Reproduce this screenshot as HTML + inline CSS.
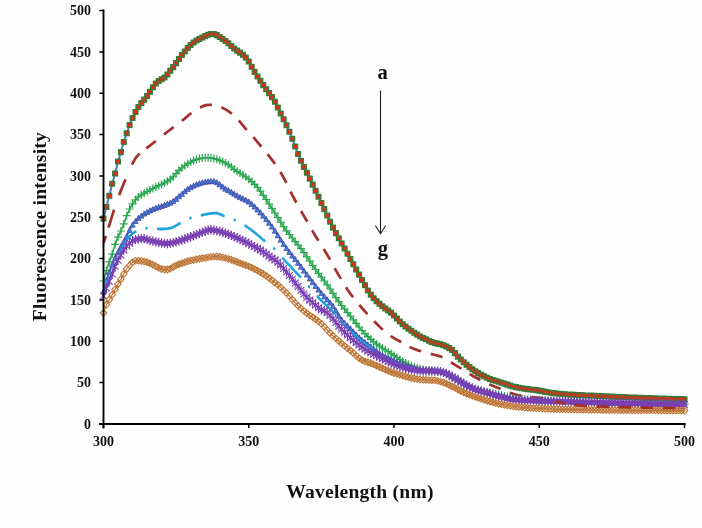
<!DOCTYPE html>
<html lang="en">
<head>
<meta charset="utf-8">
<title>Fluorescence intensity vs Wavelength (nm)</title>
<style>
html,body{margin:0;padding:0;background:#fefefe;}
body{width:702px;height:528px;overflow:hidden;font-family:"Liberation Serif","Times New Roman",serif;}
svg{display:block;filter:blur(0.35px);}
</style>
</head>
<body>
<svg width="702" height="528" viewBox="0 0 702 528">
<rect width="702" height="528" fill="#fefefe"/>
<g stroke-linejoin="round" stroke-linecap="butt">
<polyline points="103.5,218.5 106.4,207 109.3,195.8 112.2,183.7 115.1,173.5 118,161.5 120.9,152.1 123.8,141.9 126.7,133.3 129.6,124.9 132.6,118 135.5,111.9 138.4,106.9 141.3,103.1 144.2,99.6 147.1,96 150,91.7 152.9,87.3 155.8,83.5 158.7,80.9 161.6,79.3 164.5,77.5 167.4,74.5 170.3,70.8 173.2,67.1 176.1,63.1 179,58.9 181.9,54.9 184.8,51.4 187.7,48 190.7,44.9 193.6,42.4 196.5,40.5 199.4,38.9 202.3,37.5 205.2,36.1 208.1,34.8 211,33.9 213.9,34 216.8,35.1 219.7,36.9 222.6,38.9 225.5,40.9 228.4,43.3 231.3,45.9 234.2,48.4 237.1,50.6 240,52.6 242.9,54.8 245.8,57.5 248.8,61.5 251.7,66.8 254.6,71.9 257.5,76.4 260.4,80.8 263.3,85.1 266.2,89.3 269.1,93.1 272,97.1 274.9,101.7 277.8,107.5 280.7,113.4 283.6,119.3 286.5,125.3 289.4,131.7 292.3,138.7 295.2,146.4 298.1,154 301,160.8 303.9,166.9 306.9,172.7 309.8,178.6 312.7,184.6 315.6,190.7 318.5,196.7 321.4,202.9 324.3,209.1 327.2,215.5 330.1,221.7 333,227.6 335.9,233.1 338.8,238.3 341.7,243.4 344.6,248.5 347.5,253.7 350.4,259 353.3,264.2 356.2,269.5 359.1,274.6 362,279.9 364.9,285.3 367.9,290.4 370.8,294.7 373.7,298.2 376.6,301.2 379.5,303.8 382.4,306.3 385.3,308.5 388.2,310.5 391.1,312.7 394,315.4 396.9,318.5 399.8,321.5 402.7,324.2 405.6,326.5 408.5,328.7 411.4,330.7 414.3,332.7 417.2,334.6 420.1,336.4 423.1,337.9 426,339.3 428.9,340.7 431.8,342 434.7,342.9 437.6,343.6 440.5,344.3 443.4,345.2 446.3,346.5 449.2,348.1 452.1,349.9 455,353.1 457.9,356.6 460.8,359.4 463.7,362.2 466.6,364.8 469.5,367.1 472.4,369.3 475.3,371.3 478.2,373.1 481.1,374.7 484.1,376.3 487,377.7 489.9,379 492.8,380 495.7,380.8 498.6,381.7 501.5,382.7 504.4,383.6 507.3,384.6 510.2,385.6 513.1,386.4 516,387.1 518.9,387.7 521.8,388.2 524.7,388.7 527.6,389.1 530.5,389.4 533.4,389.8 536.3,390.1 539.2,390.6 542.2,391.2 545.1,391.8 548,392.3 550.9,392.7 553.8,393.1 556.7,393.5 559.6,393.8 562.5,394 565.4,394.2 568.3,394.4 571.2,394.6 574.1,394.8 577,394.9 579.9,395.1 582.8,395.2 585.7,395.4 588.6,395.5 591.5,395.6 594.4,395.7 597.4,395.9 600.3,396 603.2,396.2 606.1,396.3 609,396.4 611.9,396.6 614.8,396.7 617.7,396.9 620.6,397 623.5,397.1 626.4,397.2 629.3,397.4 632.2,397.5 635.1,397.6 638,397.7 640.9,397.8 643.8,397.9 646.7,398 649.6,398.1 652.5,398.2 655.5,398.3 658.4,398.4 661.3,398.5 664.2,398.6 667.1,398.7 670,398.8 672.9,398.9 675.8,399 678.7,399 681.6,399.1 684.5,399.2" fill="none" stroke="#4a7ebb" stroke-width="2"/>
<path d="M101.1,216.1h4.8v4.8h-4.8zM104,204.6h4.8v4.8h-4.8zM106.9,193.4h4.8v4.8h-4.8zM109.8,181.3h4.8v4.8h-4.8zM112.7,171.1h4.8v4.8h-4.8zM115.6,159.1h4.8v4.8h-4.8zM118.5,149.7h4.8v4.8h-4.8zM121.4,139.5h4.8v4.8h-4.8zM124.3,130.9h4.8v4.8h-4.8zM127.2,122.5h4.8v4.8h-4.8zM130.2,115.6h4.8v4.8h-4.8zM133.1,109.5h4.8v4.8h-4.8zM136,104.5h4.8v4.8h-4.8zM138.9,100.7h4.8v4.8h-4.8zM141.8,97.2h4.8v4.8h-4.8zM144.7,93.6h4.8v4.8h-4.8zM147.6,89.3h4.8v4.8h-4.8zM150.5,84.9h4.8v4.8h-4.8zM153.4,81.1h4.8v4.8h-4.8zM156.3,78.5h4.8v4.8h-4.8zM159.2,76.9h4.8v4.8h-4.8zM162.1,75.1h4.8v4.8h-4.8zM165,72.1h4.8v4.8h-4.8zM167.9,68.4h4.8v4.8h-4.8zM170.8,64.7h4.8v4.8h-4.8zM173.7,60.7h4.8v4.8h-4.8zM176.6,56.5h4.8v4.8h-4.8zM179.5,52.5h4.8v4.8h-4.8zM182.4,49h4.8v4.8h-4.8zM185.3,45.6h4.8v4.8h-4.8zM188.2,42.5h4.8v4.8h-4.8zM191.2,40h4.8v4.8h-4.8zM194.1,38.1h4.8v4.8h-4.8zM197,36.5h4.8v4.8h-4.8zM199.9,35.1h4.8v4.8h-4.8zM202.8,33.7h4.8v4.8h-4.8zM205.7,32.4h4.8v4.8h-4.8zM208.6,31.5h4.8v4.8h-4.8zM211.5,31.6h4.8v4.8h-4.8zM214.4,32.7h4.8v4.8h-4.8zM217.3,34.5h4.8v4.8h-4.8zM220.2,36.5h4.8v4.8h-4.8zM223.1,38.5h4.8v4.8h-4.8zM226,40.9h4.8v4.8h-4.8zM228.9,43.5h4.8v4.8h-4.8zM231.8,46h4.8v4.8h-4.8zM234.7,48.2h4.8v4.8h-4.8zM237.6,50.2h4.8v4.8h-4.8zM240.5,52.4h4.8v4.8h-4.8zM243.4,55.1h4.8v4.8h-4.8zM246.3,59.1h4.8v4.8h-4.8zM249.3,64.4h4.8v4.8h-4.8zM252.2,69.5h4.8v4.8h-4.8zM255.1,74h4.8v4.8h-4.8zM258,78.4h4.8v4.8h-4.8zM260.9,82.7h4.8v4.8h-4.8zM263.8,86.9h4.8v4.8h-4.8zM266.7,90.7h4.8v4.8h-4.8zM269.6,94.7h4.8v4.8h-4.8zM272.5,99.3h4.8v4.8h-4.8zM275.4,105.1h4.8v4.8h-4.8zM278.3,111h4.8v4.8h-4.8zM281.2,116.9h4.8v4.8h-4.8zM284.1,122.9h4.8v4.8h-4.8zM287,129.3h4.8v4.8h-4.8zM289.9,136.3h4.8v4.8h-4.8zM292.8,144h4.8v4.8h-4.8zM295.7,151.6h4.8v4.8h-4.8zM298.6,158.4h4.8v4.8h-4.8zM301.5,164.5h4.8v4.8h-4.8zM304.5,170.3h4.8v4.8h-4.8zM307.4,176.2h4.8v4.8h-4.8zM310.3,182.2h4.8v4.8h-4.8zM313.2,188.3h4.8v4.8h-4.8zM316.1,194.3h4.8v4.8h-4.8zM319,200.5h4.8v4.8h-4.8zM321.9,206.7h4.8v4.8h-4.8zM324.8,213.1h4.8v4.8h-4.8zM327.7,219.3h4.8v4.8h-4.8zM330.6,225.2h4.8v4.8h-4.8zM333.5,230.7h4.8v4.8h-4.8zM336.4,235.9h4.8v4.8h-4.8zM339.3,241h4.8v4.8h-4.8zM342.2,246.1h4.8v4.8h-4.8zM345.1,251.3h4.8v4.8h-4.8zM348,256.6h4.8v4.8h-4.8zM350.9,261.8h4.8v4.8h-4.8zM353.8,267.1h4.8v4.8h-4.8zM356.7,272.2h4.8v4.8h-4.8zM359.6,277.5h4.8v4.8h-4.8zM362.6,282.9h4.8v4.8h-4.8zM365.5,288h4.8v4.8h-4.8zM368.4,292.3h4.8v4.8h-4.8zM371.3,295.8h4.8v4.8h-4.8zM374.2,298.8h4.8v4.8h-4.8zM377.1,301.4h4.8v4.8h-4.8zM380,303.9h4.8v4.8h-4.8zM382.9,306.1h4.8v4.8h-4.8zM385.8,308.1h4.8v4.8h-4.8zM388.7,310.3h4.8v4.8h-4.8zM391.6,313h4.8v4.8h-4.8zM394.5,316.1h4.8v4.8h-4.8zM397.4,319.1h4.8v4.8h-4.8zM400.3,321.8h4.8v4.8h-4.8zM403.2,324.1h4.8v4.8h-4.8zM406.1,326.3h4.8v4.8h-4.8zM409,328.3h4.8v4.8h-4.8zM411.9,330.3h4.8v4.8h-4.8zM414.8,332.2h4.8v4.8h-4.8zM417.7,334h4.8v4.8h-4.8zM420.7,335.5h4.8v4.8h-4.8zM423.6,336.9h4.8v4.8h-4.8zM426.5,338.3h4.8v4.8h-4.8zM429.4,339.6h4.8v4.8h-4.8zM432.3,340.5h4.8v4.8h-4.8zM435.2,341.2h4.8v4.8h-4.8zM438.1,341.9h4.8v4.8h-4.8zM441,342.8h4.8v4.8h-4.8zM443.9,344.1h4.8v4.8h-4.8zM446.8,345.7h4.8v4.8h-4.8zM449.7,347.5h4.8v4.8h-4.8zM452.6,350.7h4.8v4.8h-4.8zM455.5,354.2h4.8v4.8h-4.8zM458.4,357h4.8v4.8h-4.8zM461.3,359.8h4.8v4.8h-4.8zM464.2,362.4h4.8v4.8h-4.8zM467.1,364.7h4.8v4.8h-4.8zM470,366.9h4.8v4.8h-4.8zM472.9,368.9h4.8v4.8h-4.8zM475.8,370.7h4.8v4.8h-4.8zM478.8,372.3h4.8v4.8h-4.8zM481.7,373.9h4.8v4.8h-4.8zM484.6,375.3h4.8v4.8h-4.8zM487.5,376.6h4.8v4.8h-4.8zM490.4,377.6h4.8v4.8h-4.8zM493.3,378.4h4.8v4.8h-4.8zM496.2,379.3h4.8v4.8h-4.8zM499.1,380.3h4.8v4.8h-4.8zM502,381.2h4.8v4.8h-4.8zM504.9,382.2h4.8v4.8h-4.8zM507.8,383.2h4.8v4.8h-4.8zM510.7,384h4.8v4.8h-4.8zM513.6,384.7h4.8v4.8h-4.8zM516.5,385.3h4.8v4.8h-4.8zM519.4,385.8h4.8v4.8h-4.8zM522.3,386.3h4.8v4.8h-4.8zM525.2,386.7h4.8v4.8h-4.8zM528.1,387h4.8v4.8h-4.8zM531,387.4h4.8v4.8h-4.8zM533.9,387.7h4.8v4.8h-4.8zM536.9,388.2h4.8v4.8h-4.8zM539.8,388.8h4.8v4.8h-4.8zM542.7,389.4h4.8v4.8h-4.8zM545.6,389.9h4.8v4.8h-4.8zM548.5,390.3h4.8v4.8h-4.8zM551.4,390.7h4.8v4.8h-4.8zM554.3,391.1h4.8v4.8h-4.8zM557.2,391.4h4.8v4.8h-4.8zM560.1,391.6h4.8v4.8h-4.8zM563,391.8h4.8v4.8h-4.8zM565.9,392h4.8v4.8h-4.8zM568.8,392.2h4.8v4.8h-4.8zM571.7,392.4h4.8v4.8h-4.8zM574.6,392.5h4.8v4.8h-4.8zM577.5,392.7h4.8v4.8h-4.8zM580.4,392.8h4.8v4.8h-4.8zM583.3,393h4.8v4.8h-4.8zM586.2,393.1h4.8v4.8h-4.8zM589.1,393.2h4.8v4.8h-4.8zM592,393.3h4.8v4.8h-4.8zM595,393.5h4.8v4.8h-4.8zM597.9,393.6h4.8v4.8h-4.8zM600.8,393.8h4.8v4.8h-4.8zM603.7,393.9h4.8v4.8h-4.8zM606.6,394h4.8v4.8h-4.8zM609.5,394.2h4.8v4.8h-4.8zM612.4,394.3h4.8v4.8h-4.8zM615.3,394.5h4.8v4.8h-4.8zM618.2,394.6h4.8v4.8h-4.8zM621.1,394.7h4.8v4.8h-4.8zM624,394.8h4.8v4.8h-4.8zM626.9,395h4.8v4.8h-4.8zM629.8,395.1h4.8v4.8h-4.8zM632.7,395.2h4.8v4.8h-4.8zM635.6,395.3h4.8v4.8h-4.8zM638.5,395.4h4.8v4.8h-4.8zM641.4,395.5h4.8v4.8h-4.8zM644.3,395.6h4.8v4.8h-4.8zM647.2,395.7h4.8v4.8h-4.8zM650.1,395.8h4.8v4.8h-4.8zM653.1,395.9h4.8v4.8h-4.8zM656,396h4.8v4.8h-4.8zM658.9,396.1h4.8v4.8h-4.8zM661.8,396.2h4.8v4.8h-4.8zM664.7,396.3h4.8v4.8h-4.8zM667.6,396.4h4.8v4.8h-4.8zM670.5,396.5h4.8v4.8h-4.8zM673.4,396.6h4.8v4.8h-4.8zM676.3,396.6h4.8v4.8h-4.8zM679.2,396.7h4.8v4.8h-4.8zM682.1,396.8h4.8v4.8h-4.8z" fill="#da2f1e" stroke="#2c7f37" stroke-width="1.25"/>
<path d="M102,217h3v3h-3zM104.9,205.5h3v3h-3zM107.8,194.3h3v3h-3zM110.7,182.2h3v3h-3zM113.6,172h3v3h-3zM116.5,160h3v3h-3zM119.4,150.6h3v3h-3zM122.3,140.4h3v3h-3zM125.2,131.8h3v3h-3zM128.1,123.4h3v3h-3zM131.1,116.5h3v3h-3zM134,110.4h3v3h-3zM136.9,105.4h3v3h-3zM139.8,101.6h3v3h-3zM142.7,98.1h3v3h-3zM145.6,94.5h3v3h-3zM148.5,90.2h3v3h-3zM151.4,85.8h3v3h-3zM154.3,82h3v3h-3zM157.2,79.4h3v3h-3zM160.1,77.8h3v3h-3zM163,76h3v3h-3zM165.9,73h3v3h-3zM168.8,69.3h3v3h-3zM171.7,65.6h3v3h-3zM174.6,61.6h3v3h-3zM177.5,57.4h3v3h-3zM180.4,53.4h3v3h-3zM183.3,49.9h3v3h-3zM186.2,46.5h3v3h-3zM189.2,43.4h3v3h-3zM192.1,40.9h3v3h-3zM195,39h3v3h-3zM197.9,37.4h3v3h-3zM200.8,36h3v3h-3zM203.7,34.6h3v3h-3zM206.6,33.3h3v3h-3zM209.5,32.4h3v3h-3zM212.4,32.5h3v3h-3zM215.3,33.6h3v3h-3zM218.2,35.4h3v3h-3zM221.1,37.4h3v3h-3zM224,39.4h3v3h-3zM226.9,41.8h3v3h-3zM229.8,44.4h3v3h-3zM232.7,46.9h3v3h-3zM235.6,49.1h3v3h-3zM238.5,51.1h3v3h-3zM241.4,53.3h3v3h-3zM244.3,56h3v3h-3zM247.2,60h3v3h-3zM250.2,65.3h3v3h-3zM253.1,70.4h3v3h-3zM256,74.9h3v3h-3zM258.9,79.3h3v3h-3zM261.8,83.6h3v3h-3zM264.7,87.8h3v3h-3zM267.6,91.6h3v3h-3zM270.5,95.6h3v3h-3zM273.4,100.2h3v3h-3zM276.3,106h3v3h-3zM279.2,111.9h3v3h-3zM282.1,117.8h3v3h-3zM285,123.8h3v3h-3zM287.9,130.2h3v3h-3zM290.8,137.2h3v3h-3zM293.7,144.9h3v3h-3zM296.6,152.5h3v3h-3zM299.5,159.3h3v3h-3zM302.4,165.4h3v3h-3zM305.4,171.2h3v3h-3zM308.3,177.1h3v3h-3zM311.2,183.1h3v3h-3zM314.1,189.2h3v3h-3zM317,195.2h3v3h-3zM319.9,201.4h3v3h-3zM322.8,207.6h3v3h-3zM325.7,214h3v3h-3zM328.6,220.2h3v3h-3zM331.5,226.1h3v3h-3zM334.4,231.6h3v3h-3zM337.3,236.8h3v3h-3zM340.2,241.9h3v3h-3zM343.1,247h3v3h-3zM346,252.2h3v3h-3zM348.9,257.5h3v3h-3zM351.8,262.7h3v3h-3zM354.7,268h3v3h-3zM357.6,273.1h3v3h-3zM360.5,278.4h3v3h-3zM363.4,283.8h3v3h-3zM366.4,288.9h3v3h-3zM369.3,293.2h3v3h-3zM372.2,296.7h3v3h-3zM375.1,299.7h3v3h-3zM378,302.3h3v3h-3zM380.9,304.8h3v3h-3zM383.8,307h3v3h-3zM386.7,309h3v3h-3zM389.6,311.2h3v3h-3zM392.5,313.9h3v3h-3zM395.4,317h3v3h-3zM398.3,320h3v3h-3zM401.2,322.7h3v3h-3zM404.1,325h3v3h-3zM407,327.2h3v3h-3zM409.9,329.2h3v3h-3zM412.8,331.2h3v3h-3zM415.7,333.1h3v3h-3zM418.6,334.9h3v3h-3zM421.6,336.4h3v3h-3zM424.5,337.8h3v3h-3zM427.4,339.2h3v3h-3zM430.3,340.5h3v3h-3zM433.2,341.4h3v3h-3zM436.1,342.1h3v3h-3zM439,342.8h3v3h-3zM441.9,343.7h3v3h-3zM444.8,345h3v3h-3zM447.7,346.6h3v3h-3zM450.6,348.4h3v3h-3zM453.5,351.6h3v3h-3zM456.4,355.1h3v3h-3zM459.3,357.9h3v3h-3zM462.2,360.7h3v3h-3zM465.1,363.3h3v3h-3zM468,365.6h3v3h-3zM470.9,367.8h3v3h-3zM473.8,369.8h3v3h-3zM476.7,371.6h3v3h-3zM479.6,373.2h3v3h-3zM482.6,374.8h3v3h-3zM485.5,376.2h3v3h-3zM488.4,377.5h3v3h-3zM491.3,378.5h3v3h-3zM494.2,379.3h3v3h-3zM497.1,380.2h3v3h-3zM500,381.2h3v3h-3zM502.9,382.1h3v3h-3zM505.8,383.1h3v3h-3zM508.7,384.1h3v3h-3zM511.6,384.9h3v3h-3zM514.5,385.6h3v3h-3zM517.4,386.2h3v3h-3zM520.3,386.7h3v3h-3zM523.2,387.2h3v3h-3zM526.1,387.6h3v3h-3zM529,387.9h3v3h-3zM531.9,388.3h3v3h-3zM534.8,388.6h3v3h-3zM537.8,389.1h3v3h-3zM540.7,389.7h3v3h-3zM543.6,390.3h3v3h-3zM546.5,390.8h3v3h-3zM549.4,391.2h3v3h-3zM552.3,391.6h3v3h-3zM555.2,392h3v3h-3zM558.1,392.3h3v3h-3zM561,392.5h3v3h-3zM563.9,392.7h3v3h-3zM566.8,392.9h3v3h-3zM569.7,393.1h3v3h-3zM572.6,393.3h3v3h-3zM575.5,393.4h3v3h-3zM578.4,393.6h3v3h-3zM581.3,393.7h3v3h-3zM584.2,393.9h3v3h-3zM587.1,394h3v3h-3zM590,394.1h3v3h-3zM592.9,394.2h3v3h-3zM595.9,394.4h3v3h-3zM598.8,394.5h3v3h-3zM601.7,394.7h3v3h-3zM604.6,394.8h3v3h-3zM607.5,394.9h3v3h-3zM610.4,395.1h3v3h-3zM613.3,395.2h3v3h-3zM616.2,395.4h3v3h-3zM619.1,395.5h3v3h-3zM622,395.6h3v3h-3zM624.9,395.7h3v3h-3zM627.8,395.9h3v3h-3zM630.7,396h3v3h-3zM633.6,396.1h3v3h-3zM636.5,396.2h3v3h-3zM639.4,396.3h3v3h-3zM642.3,396.4h3v3h-3zM645.2,396.5h3v3h-3zM648.1,396.6h3v3h-3zM651,396.7h3v3h-3zM654,396.8h3v3h-3zM656.9,396.9h3v3h-3zM659.8,397h3v3h-3zM662.7,397.1h3v3h-3zM665.6,397.2h3v3h-3zM668.5,397.3h3v3h-3zM671.4,397.4h3v3h-3zM674.3,397.5h3v3h-3zM677.2,397.5h3v3h-3zM680.1,397.6h3v3h-3zM683,397.7h3v3h-3z" fill="#da2f1e" fill-opacity="0.75"/>
<polyline points="103.5,243 106.4,234.6 109.3,225 112.2,215.6 115.1,206.5 118,198.2 120.9,190.6 123.8,183.4 126.7,176.7 129.6,169.9 132.6,163.4 135.5,158.2 138.4,154.8 141.3,152.1 144.2,149.8 147.1,147.7 150,145.6 152.9,143.3 155.8,141 158.7,138.6 161.6,136.4 164.5,134.1 167.4,131.8 170.3,129.6 173.2,127.4 176.1,125.2 179,123 181.9,120.8 184.8,118.6 187.7,116.1 190.7,113.5 193.6,111.1 196.5,109.1 199.4,107.7 202.3,106.4 205.2,105.4 208.1,104.8 211,104.9 213.9,105.3 216.8,106.1 219.7,106.9 222.6,107.9 225.5,109.4 228.4,111.2 231.3,113.3 234.2,115.6 237.1,118.4 240,121.8 242.9,125.3 245.8,128.8 248.8,132.1 251.7,135.4 254.6,138.7 257.5,142.1 260.4,145.5 263.3,148.9 266.2,152.4 269.1,156.1 272,159.9 274.9,163.8 277.8,168 280.7,172.5 283.6,177.5 286.5,183.3 289.4,189.3 292.3,195.1 295.2,200.5 298.1,205.7 301,210.9 303.9,216 306.9,221.1 309.8,226.2 312.7,231.3 315.6,236.2 318.5,240.9 321.4,245.5 324.3,250 327.2,254.7 330.1,259.7 333,264.9 335.9,270.3 338.8,275.4 341.7,280.2 344.6,284.9 347.5,289.5 350.4,293.7 353.3,297.6 356.2,301.2 359.1,304.6 362,308 364.9,311.3 367.9,314.5 370.8,317.7 373.7,320.8 376.6,323.8 379.5,326.6 382.4,329.4 385.3,332 388.2,334.4 391.1,336.4 394,338.1 396.9,339.8 399.8,341.3 402.7,342.9 405.6,344.5 408.5,346.2 411.4,347.7 414.3,349 417.2,350.1 420.1,351 423.1,351.9 426,352.7 428.9,353.4 431.8,354.1 434.7,354.8 437.6,355.6 440.5,356.5 443.4,357.8 446.3,359.5 449.2,361.3 452.1,363 455,364.8 457.9,366.6 460.8,368.3 463.7,370.1 466.6,372 469.5,373.9 472.4,375.7 475.3,377.3 478.2,378.8 481.1,380.3 484.1,381.7 487,383.1 489.9,384.5 492.8,385.7 495.7,386.9 498.6,388.1 501.5,389.3 504.4,390.6 507.3,391.8 510.2,392.9 513.1,393.9 516,394.6 518.9,395.2 521.8,395.7 524.7,396.2 527.6,396.6 530.5,396.9 533.4,397.2 536.3,397.5 539.2,397.8 542.2,398.1 545.1,398.5 548,399.1 550.9,399.9 553.8,400.8 556.7,401.7 559.6,402.4 562.5,403 565.4,403.5 568.3,404 571.2,404.5 574.1,404.9 577,405.2 579.9,405.5 582.8,405.7 585.7,405.9 588.6,406 591.5,406.2 594.4,406.3 597.4,406.4 600.3,406.5 603.2,406.6 606.1,406.7 609,406.8 611.9,406.8 614.8,406.9 617.7,407 620.6,407.1 623.5,407.1 626.4,407.2 629.3,407.3 632.2,407.3 635.1,407.4 638,407.5 640.9,407.5 643.8,407.6 646.7,407.6 649.6,407.7 652.5,407.7 655.5,407.8 658.4,407.8 661.3,407.9 664.2,407.9 667.1,407.9 670,407.9 672.9,408 675.8,408 678.7,408 681.6,408 684.5,408" fill="none" stroke="#a3302c" stroke-width="2.7" stroke-dasharray="7.6 8.5 18.8 15.4 17.1 16.1 13.5 8.3 12.3 10.3 12.3 10.3 12.3 10.3 12.3 9.8 12.3 9.8 12.3 9.8 12.3 9.8 12.3 9.8 12.3 9.8 12.3 9.8 12.3 9.8 12.3 9.8 12.3 9.8 12.3 9.8 12.3 9.8 12.3 9.8 12.3 9.8 12.3 9.8 12.3 9.8 12.3 9.8 12.3 9.8 12.3 9.8 12.3 9.8 12.3 9.8 12.3 9.8 12.3 9.8 12.3 9.8 12.3 9.8 12.3 9.8 12.3 9.8 12.3 9.8 12.3 9.8 12.3 9.8 12.3 9.8 12.3 9.8 12.3 9.8 12.3 9.8 12.3 9.8 12.3 9.8 12.3 9.8 12.3 9.8 12.3 9.8 12.3 9.8 12.3 9.8 12.3 9.8 12.3 9.8 12.3 9.8 12.3 9.8"/>
<polyline points="103.5,281 106.4,270.5 109.3,261.8 112.2,254.1 115.1,244.4 118,237.1 120.9,231 123.8,223.9 126.7,215.7 129.6,209 132.6,203.8 135.5,199.8 138.4,196.9 141.3,194.9 144.2,193.2 147.1,191.6 150,190 152.9,188.5 155.8,187 158.7,185.7 161.6,184.4 164.5,182.9 167.4,181.2 170.3,179.2 173.2,176.8 176.1,173.6 179,170.4 181.9,167.8 184.8,165.6 187.7,163.7 190.7,162.1 193.6,160.5 196.5,159.3 199.4,158.6 202.3,158 205.2,157.6 208.1,157.7 211,158.1 213.9,158.5 216.8,159.3 219.7,160.4 222.6,161.6 225.5,163 228.4,164.7 231.3,166.9 234.2,169.3 237.1,171.3 240,173.1 242.9,175 245.8,176.9 248.8,179.2 251.7,181.6 254.6,184.3 257.5,187.4 260.4,191.2 263.3,195.3 266.2,199.5 269.1,204 272,208.5 274.9,213 277.8,217.6 280.7,222.1 283.6,226.7 286.5,230.8 289.4,234.5 292.3,238.1 295.2,241.7 298.1,245.1 301,248.7 303.9,252.7 306.9,256.9 309.8,261.2 312.7,265.5 315.6,269.5 318.5,273.4 321.4,277.2 324.3,281 327.2,284.8 330.1,289 333,293.4 335.9,297.7 338.8,301.7 341.7,305.5 344.6,309.1 347.5,312.7 350.4,316.2 353.3,319.8 356.2,323.4 359.1,327 362,330.5 364.9,333.7 367.9,336.6 370.8,339.3 373.7,341.9 376.6,344.2 379.5,346.2 382.4,348 385.3,349.8 388.2,351.7 391.1,353.7 394,355.6 396.9,357.5 399.8,359.4 402.7,361.3 405.6,363 408.5,364.5 411.4,365.8 414.3,366.9 417.2,367.9 420.1,368.7 423.1,369.5 426,370.2 428.9,370.7 431.8,371 434.7,371.3 437.6,371.6 440.5,372.2 443.4,372.8 446.3,373.7 449.2,374.7 452.1,376.4 455,378.4 457.9,380.4 460.8,382 463.7,383.5 466.6,384.9 469.5,386.2 472.4,387.3 475.3,388.4 478.2,389.4 481.1,390.5 484.1,391.4 487,392.1 489.9,392.8 492.8,393.4 495.7,393.9 498.6,394.3 501.5,395.1 504.4,395.9 507.3,396.6 510.2,397.3 513.1,397.9 516,398.3 518.9,398.6 521.8,398.9 524.7,399.2 527.6,399.5 530.5,399.7 533.4,399.9 536.3,400.1 539.2,400.3 542.2,400.4 545.1,400.5 548,400.7 550.9,400.8 553.8,400.9 556.7,401.1 559.6,401.2 562.5,401.3 565.4,401.4 568.3,401.6 571.2,401.7 574.1,401.8 577,401.9 579.9,402 582.8,402.1 585.7,402.2 588.6,402.3 591.5,402.4 594.4,402.5 597.4,402.6 600.3,402.7 603.2,402.8 606.1,402.9 609,403 611.9,403.1 614.8,403.2 617.7,403.2 620.6,403.3 623.5,403.4 626.4,403.5 629.3,403.5 632.2,403.6 635.1,403.7 638,403.7 640.9,403.8 643.8,403.8 646.7,403.9 649.6,403.9 652.5,404 655.5,404 658.4,404 661.3,404.1 664.2,404.1 667.1,404.1 670,404.1 672.9,404.2 675.8,404.2 678.7,404.2 681.6,404.2 684.5,404.2" fill="none" stroke="#2aa851" stroke-width="1.6"/>
<path d="M99.5,281h8M103.5,277v8M102.4,270.5h8M106.4,266.5v8M105.3,261.8h8M109.3,257.8v8M108.2,254.1h8M112.2,250.1v8M111.1,244.4h8M115.1,240.4v8M114,237.1h8M118,233.1v8M116.9,231h8M120.9,227v8M119.8,223.9h8M123.8,219.9v8M122.7,215.7h8M126.7,211.7v8M125.6,209h8M129.6,205v8M128.6,203.8h8M132.6,199.8v8M131.5,199.8h8M135.5,195.8v8M134.4,196.9h8M138.4,192.9v8M137.3,194.9h8M141.3,190.9v8M140.2,193.2h8M144.2,189.2v8M143.1,191.6h8M147.1,187.6v8M146,190h8M150,186v8M148.9,188.5h8M152.9,184.5v8M151.8,187h8M155.8,183v8M154.7,185.7h8M158.7,181.7v8M157.6,184.4h8M161.6,180.4v8M160.5,182.9h8M164.5,178.9v8M163.4,181.2h8M167.4,177.2v8M166.3,179.2h8M170.3,175.2v8M169.2,176.8h8M173.2,172.8v8M172.1,173.6h8M176.1,169.6v8M175,170.4h8M179,166.4v8M177.9,167.8h8M181.9,163.8v8M180.8,165.6h8M184.8,161.6v8M183.7,163.7h8M187.7,159.7v8M186.7,162.1h8M190.7,158.1v8M189.6,160.5h8M193.6,156.5v8M192.5,159.3h8M196.5,155.3v8M195.4,158.6h8M199.4,154.6v8M198.3,158h8M202.3,154v8M201.2,157.6h8M205.2,153.6v8M204.1,157.7h8M208.1,153.7v8M207,158.1h8M211,154.1v8M209.9,158.5h8M213.9,154.5v8M212.8,159.3h8M216.8,155.3v8M215.7,160.4h8M219.7,156.4v8M218.6,161.6h8M222.6,157.6v8M221.5,163h8M225.5,159v8M224.4,164.7h8M228.4,160.7v8M227.3,166.9h8M231.3,162.9v8M230.2,169.3h8M234.2,165.3v8M233.1,171.3h8M237.1,167.3v8M236,173.1h8M240,169.1v8M238.9,175h8M242.9,171v8M241.8,176.9h8M245.8,172.9v8M244.8,179.2h8M248.8,175.2v8M247.7,181.6h8M251.7,177.6v8M250.6,184.3h8M254.6,180.3v8M253.5,187.4h8M257.5,183.4v8M256.4,191.2h8M260.4,187.2v8M259.3,195.3h8M263.3,191.3v8M262.2,199.5h8M266.2,195.5v8M265.1,204h8M269.1,200v8M268,208.5h8M272,204.5v8M270.9,213h8M274.9,209v8M273.8,217.6h8M277.8,213.6v8M276.7,222.1h8M280.7,218.1v8M279.6,226.7h8M283.6,222.7v8M282.5,230.8h8M286.5,226.8v8M285.4,234.5h8M289.4,230.5v8M288.3,238.1h8M292.3,234.1v8M291.2,241.7h8M295.2,237.7v8M294.1,245.1h8M298.1,241.1v8M297,248.7h8M301,244.7v8M299.9,252.7h8M303.9,248.7v8M302.9,256.9h8M306.9,252.9v8M305.8,261.2h8M309.8,257.2v8M308.7,265.5h8M312.7,261.5v8M311.6,269.5h8M315.6,265.5v8M314.5,273.4h8M318.5,269.4v8M317.4,277.2h8M321.4,273.2v8M320.3,281h8M324.3,277v8M323.2,284.8h8M327.2,280.8v8M326.1,289h8M330.1,285v8M329,293.4h8M333,289.4v8M331.9,297.7h8M335.9,293.7v8M334.8,301.7h8M338.8,297.7v8M337.7,305.5h8M341.7,301.5v8M340.6,309.1h8M344.6,305.1v8M343.5,312.7h8M347.5,308.7v8M346.4,316.2h8M350.4,312.2v8M349.3,319.8h8M353.3,315.8v8M352.2,323.4h8M356.2,319.4v8M355.1,327h8M359.1,323v8M358,330.5h8M362,326.5v8M360.9,333.7h8M364.9,329.7v8M363.9,336.6h8M367.9,332.6v8M366.8,339.3h8M370.8,335.3v8M369.7,341.9h8M373.7,337.9v8M372.6,344.2h8M376.6,340.2v8M375.5,346.2h8M379.5,342.2v8M378.4,348h8M382.4,344v8M381.3,349.8h8M385.3,345.8v8M384.2,351.7h8M388.2,347.7v8M387.1,353.7h8M391.1,349.7v8M390,355.6h8M394,351.6v8M392.9,357.5h8M396.9,353.5v8M395.8,359.4h8M399.8,355.4v8M398.7,361.3h8M402.7,357.3v8M401.6,363h8M405.6,359v8M404.5,364.5h8M408.5,360.5v8M407.4,365.8h8M411.4,361.8v8M410.3,366.9h8M414.3,362.9v8M413.2,367.9h8M417.2,363.9v8M416.1,368.7h8M420.1,364.7v8M419.1,369.5h8M423.1,365.5v8M422,370.2h8M426,366.2v8M424.9,370.7h8M428.9,366.7v8M427.8,371h8M431.8,367v8M430.7,371.3h8M434.7,367.3v8M433.6,371.6h8M437.6,367.6v8M436.5,372.2h8M440.5,368.2v8M439.4,372.8h8M443.4,368.8v8M442.3,373.7h8M446.3,369.7v8M445.2,374.7h8M449.2,370.7v8M448.1,376.4h8M452.1,372.4v8M451,378.4h8M455,374.4v8M453.9,380.4h8M457.9,376.4v8M456.8,382h8M460.8,378v8M459.7,383.5h8M463.7,379.5v8M462.6,384.9h8M466.6,380.9v8M465.5,386.2h8M469.5,382.2v8M468.4,387.3h8M472.4,383.3v8M471.3,388.4h8M475.3,384.4v8M474.2,389.4h8M478.2,385.4v8M477.1,390.5h8M481.1,386.5v8M480.1,391.4h8M484.1,387.4v8M483,392.1h8M487,388.1v8M485.9,392.8h8M489.9,388.8v8M488.8,393.4h8M492.8,389.4v8M491.7,393.9h8M495.7,389.9v8M494.6,394.3h8M498.6,390.3v8M497.5,395.1h8M501.5,391.1v8M500.4,395.9h8M504.4,391.9v8M503.3,396.6h8M507.3,392.6v8M506.2,397.3h8M510.2,393.3v8M509.1,397.9h8M513.1,393.9v8M512,398.3h8M516,394.3v8M514.9,398.6h8M518.9,394.6v8M517.8,398.9h8M521.8,394.9v8M520.7,399.2h8M524.7,395.2v8M523.6,399.5h8M527.6,395.5v8M526.5,399.7h8M530.5,395.7v8M529.4,399.9h8M533.4,395.9v8M532.3,400.1h8M536.3,396.1v8M535.2,400.3h8M539.2,396.3v8M538.2,400.4h8M542.2,396.4v8M541.1,400.5h8M545.1,396.5v8M544,400.7h8M548,396.7v8M546.9,400.8h8M550.9,396.8v8M549.8,400.9h8M553.8,396.9v8M552.7,401.1h8M556.7,397.1v8M555.6,401.2h8M559.6,397.2v8M558.5,401.3h8M562.5,397.3v8M561.4,401.4h8M565.4,397.4v8M564.3,401.6h8M568.3,397.6v8M567.2,401.7h8M571.2,397.7v8M570.1,401.8h8M574.1,397.8v8M573,401.9h8M577,397.9v8M575.9,402h8M579.9,398v8M578.8,402.1h8M582.8,398.1v8M581.7,402.2h8M585.7,398.2v8M584.6,402.3h8M588.6,398.3v8M587.5,402.4h8M591.5,398.4v8M590.4,402.5h8M594.4,398.5v8M593.4,402.6h8M597.4,398.6v8M596.3,402.7h8M600.3,398.7v8M599.2,402.8h8M603.2,398.8v8M602.1,402.9h8M606.1,398.9v8M605,403h8M609,399v8M607.9,403.1h8M611.9,399.1v8M610.8,403.2h8M614.8,399.2v8M613.7,403.2h8M617.7,399.2v8M616.6,403.3h8M620.6,399.3v8M619.5,403.4h8M623.5,399.4v8M622.4,403.5h8M626.4,399.5v8M625.3,403.5h8M629.3,399.5v8M628.2,403.6h8M632.2,399.6v8M631.1,403.7h8M635.1,399.7v8M634,403.7h8M638,399.7v8M636.9,403.8h8M640.9,399.8v8M639.8,403.8h8M643.8,399.8v8M642.7,403.9h8M646.7,399.9v8M645.6,403.9h8M649.6,399.9v8M648.5,404h8M652.5,400v8M651.5,404h8M655.5,400v8M654.4,404h8M658.4,400v8M657.3,404.1h8M661.3,400.1v8M660.2,404.1h8M664.2,400.1v8M663.1,404.1h8M667.1,400.1v8M666,404.1h8M670,400.1v8M668.9,404.2h8M672.9,400.2v8M671.8,404.2h8M675.8,400.2v8M674.7,404.2h8M678.7,400.2v8M677.6,404.2h8M681.6,400.2v8M680.5,404.2h8M684.5,400.2v8" fill="none" stroke="#2aa851" stroke-width="1.2"/>
<polyline points="103.5,291 106.4,280 109.3,271.8 112.2,264.5 115.1,257.9 118,251.9 120.9,246.4 123.8,241.3 126.7,236 129.6,229.8 132.6,224.6 135.5,220.9 138.4,217.9 141.3,215.6 144.2,213.5 147.1,211.8 150,210.3 152.9,209 155.8,207.8 158.7,206.8 161.6,205.9 164.5,204.8 167.4,203.7 170.3,202.6 173.2,201 176.1,198.8 179,196.2 181.9,193.8 184.8,191.2 187.7,188.8 190.7,187 193.6,185.5 196.5,184.2 199.4,183.2 202.3,182.3 205.2,181.6 208.1,181.3 211,181 213.9,181.1 216.8,182.2 219.7,184.2 222.6,186.5 225.5,188.6 228.4,190.1 231.3,191.8 234.2,193.6 237.1,195.4 240,197 242.9,198.3 245.8,199.7 248.8,201.5 251.7,203.9 254.6,206.5 257.5,209.4 260.4,212.4 263.3,215.6 266.2,219.1 269.1,222.7 272,226.5 274.9,230.6 277.8,235.1 280.7,239.6 283.6,244 286.5,248 289.4,251.8 292.3,255.5 295.2,259 298.1,262.7 301,266.6 303.9,270.5 306.9,274.4 309.8,278.3 312.7,282 315.6,285.8 318.5,289.4 321.4,293 324.3,296.3 327.2,299.4 330.1,302.5 333,306 335.9,310.6 338.8,315.7 341.7,319.7 344.6,322.8 347.5,325.6 350.4,328.4 353.3,331.4 356.2,334.5 359.1,337.4 362,339.9 364.9,342.1 367.9,344.4 370.8,346.5 373.7,348.7 376.6,350.9 379.5,353.1 382.4,354.9 385.3,356.4 388.2,357.8 391.1,359.2 394,360.5 396.9,361.9 399.8,363.1 402.7,364.3 405.6,365.4 408.5,366.4 411.4,367.3 414.3,368 417.2,368.7 420.1,369.2 423.1,369.5 426,369.7 428.9,369.8 431.8,369.9 434.7,370.2 437.6,370.5 440.5,371 443.4,371.6 446.3,372.7 449.2,374.2 452.1,375.8 455,377.4 457.9,379.1 460.8,380.9 463.7,382.6 466.6,384.3 469.5,385.9 472.4,387.4 475.3,388.6 478.2,389.6 481.1,390.4 484.1,391.3 487,392.1 489.9,392.9 492.8,393.7 495.7,394.5 498.6,395.3 501.5,396 504.4,396.7 507.3,397.4 510.2,397.9 513.1,398.4 516,398.7 518.9,399 521.8,399.2 524.7,399.4 527.6,399.6 530.5,399.7 533.4,399.9 536.3,400 539.2,400.1 542.2,400.2 545.1,400.3 548,400.4 550.9,400.5 553.8,400.7 556.7,400.8 559.6,400.9 562.5,401 565.4,401.1 568.3,401.2 571.2,401.3 574.1,401.4 577,401.5 579.9,401.6 582.8,401.7 585.7,401.8 588.6,401.8 591.5,401.9 594.4,402 597.4,402.1 600.3,402.2 603.2,402.3 606.1,402.4 609,402.4 611.9,402.5 614.8,402.6 617.7,402.6 620.6,402.7 623.5,402.8 626.4,402.8 629.3,402.9 632.2,403 635.1,403 638,403.1 640.9,403.1 643.8,403.2 646.7,403.2 649.6,403.2 652.5,403.3 655.5,403.3 658.4,403.4 661.3,403.4 664.2,403.4 667.1,403.4 670,403.5 672.9,403.5 675.8,403.5 678.7,403.5 681.6,403.5 684.5,403.5" fill="none" stroke="#3a66c0" stroke-width="2"/>
<path d="M103.5,288.4l2.6,5.2h-5.2zM106.4,277.4l2.6,5.2h-5.2zM109.3,269.2l2.6,5.2h-5.2zM112.2,261.9l2.6,5.2h-5.2zM115.1,255.3l2.6,5.2h-5.2zM118,249.3l2.6,5.2h-5.2zM120.9,243.8l2.6,5.2h-5.2zM123.8,238.7l2.6,5.2h-5.2zM126.7,233.4l2.6,5.2h-5.2zM129.6,227.2l2.6,5.2h-5.2zM132.6,222l2.6,5.2h-5.2zM135.5,218.3l2.6,5.2h-5.2zM138.4,215.3l2.6,5.2h-5.2zM141.3,213l2.6,5.2h-5.2zM144.2,210.9l2.6,5.2h-5.2zM147.1,209.2l2.6,5.2h-5.2zM150,207.7l2.6,5.2h-5.2zM152.9,206.4l2.6,5.2h-5.2zM155.8,205.2l2.6,5.2h-5.2zM158.7,204.2l2.6,5.2h-5.2zM161.6,203.3l2.6,5.2h-5.2zM164.5,202.2l2.6,5.2h-5.2zM167.4,201.1l2.6,5.2h-5.2zM170.3,200l2.6,5.2h-5.2zM173.2,198.4l2.6,5.2h-5.2zM176.1,196.2l2.6,5.2h-5.2zM179,193.6l2.6,5.2h-5.2zM181.9,191.2l2.6,5.2h-5.2zM184.8,188.6l2.6,5.2h-5.2zM187.7,186.2l2.6,5.2h-5.2zM190.7,184.4l2.6,5.2h-5.2zM193.6,182.9l2.6,5.2h-5.2zM196.5,181.6l2.6,5.2h-5.2zM199.4,180.6l2.6,5.2h-5.2zM202.3,179.7l2.6,5.2h-5.2zM205.2,179l2.6,5.2h-5.2zM208.1,178.7l2.6,5.2h-5.2zM211,178.4l2.6,5.2h-5.2zM213.9,178.5l2.6,5.2h-5.2zM216.8,179.6l2.6,5.2h-5.2zM219.7,181.6l2.6,5.2h-5.2zM222.6,183.9l2.6,5.2h-5.2zM225.5,186l2.6,5.2h-5.2zM228.4,187.5l2.6,5.2h-5.2zM231.3,189.2l2.6,5.2h-5.2zM234.2,191l2.6,5.2h-5.2zM237.1,192.8l2.6,5.2h-5.2zM240,194.4l2.6,5.2h-5.2zM242.9,195.7l2.6,5.2h-5.2zM245.8,197.1l2.6,5.2h-5.2zM248.8,198.9l2.6,5.2h-5.2zM251.7,201.3l2.6,5.2h-5.2zM254.6,203.9l2.6,5.2h-5.2zM257.5,206.8l2.6,5.2h-5.2zM260.4,209.8l2.6,5.2h-5.2zM263.3,213l2.6,5.2h-5.2zM266.2,216.5l2.6,5.2h-5.2zM269.1,220.1l2.6,5.2h-5.2zM272,223.9l2.6,5.2h-5.2zM274.9,228l2.6,5.2h-5.2zM277.8,232.5l2.6,5.2h-5.2zM280.7,237l2.6,5.2h-5.2zM283.6,241.4l2.6,5.2h-5.2zM286.5,245.4l2.6,5.2h-5.2zM289.4,249.2l2.6,5.2h-5.2zM292.3,252.9l2.6,5.2h-5.2zM295.2,256.4l2.6,5.2h-5.2zM298.1,260.1l2.6,5.2h-5.2zM301,264l2.6,5.2h-5.2zM303.9,267.9l2.6,5.2h-5.2zM306.9,271.8l2.6,5.2h-5.2zM309.8,275.7l2.6,5.2h-5.2zM312.7,279.4l2.6,5.2h-5.2zM315.6,283.2l2.6,5.2h-5.2zM318.5,286.8l2.6,5.2h-5.2zM321.4,290.4l2.6,5.2h-5.2zM324.3,293.7l2.6,5.2h-5.2zM327.2,296.8l2.6,5.2h-5.2zM330.1,299.9l2.6,5.2h-5.2zM333,303.4l2.6,5.2h-5.2zM335.9,308l2.6,5.2h-5.2zM338.8,313.1l2.6,5.2h-5.2zM341.7,317.1l2.6,5.2h-5.2zM344.6,320.2l2.6,5.2h-5.2zM347.5,323l2.6,5.2h-5.2zM350.4,325.8l2.6,5.2h-5.2zM353.3,328.8l2.6,5.2h-5.2zM356.2,331.9l2.6,5.2h-5.2zM359.1,334.8l2.6,5.2h-5.2zM362,337.3l2.6,5.2h-5.2zM364.9,339.5l2.6,5.2h-5.2zM367.9,341.8l2.6,5.2h-5.2zM370.8,343.9l2.6,5.2h-5.2zM373.7,346.1l2.6,5.2h-5.2zM376.6,348.3l2.6,5.2h-5.2zM379.5,350.5l2.6,5.2h-5.2zM382.4,352.3l2.6,5.2h-5.2zM385.3,353.8l2.6,5.2h-5.2zM388.2,355.2l2.6,5.2h-5.2zM391.1,356.6l2.6,5.2h-5.2zM394,357.9l2.6,5.2h-5.2zM396.9,359.3l2.6,5.2h-5.2zM399.8,360.5l2.6,5.2h-5.2zM402.7,361.7l2.6,5.2h-5.2zM405.6,362.8l2.6,5.2h-5.2zM408.5,363.8l2.6,5.2h-5.2zM411.4,364.7l2.6,5.2h-5.2zM414.3,365.4l2.6,5.2h-5.2zM417.2,366.1l2.6,5.2h-5.2zM420.1,366.6l2.6,5.2h-5.2zM423.1,366.9l2.6,5.2h-5.2zM426,367.1l2.6,5.2h-5.2zM428.9,367.2l2.6,5.2h-5.2zM431.8,367.3l2.6,5.2h-5.2zM434.7,367.6l2.6,5.2h-5.2zM437.6,367.9l2.6,5.2h-5.2zM440.5,368.4l2.6,5.2h-5.2zM443.4,369l2.6,5.2h-5.2zM446.3,370.1l2.6,5.2h-5.2zM449.2,371.6l2.6,5.2h-5.2zM452.1,373.2l2.6,5.2h-5.2zM455,374.8l2.6,5.2h-5.2zM457.9,376.5l2.6,5.2h-5.2zM460.8,378.3l2.6,5.2h-5.2zM463.7,380l2.6,5.2h-5.2zM466.6,381.7l2.6,5.2h-5.2zM469.5,383.3l2.6,5.2h-5.2zM472.4,384.8l2.6,5.2h-5.2zM475.3,386l2.6,5.2h-5.2zM478.2,387l2.6,5.2h-5.2zM481.1,387.8l2.6,5.2h-5.2zM484.1,388.7l2.6,5.2h-5.2zM487,389.5l2.6,5.2h-5.2zM489.9,390.3l2.6,5.2h-5.2zM492.8,391.1l2.6,5.2h-5.2zM495.7,391.9l2.6,5.2h-5.2zM498.6,392.7l2.6,5.2h-5.2zM501.5,393.4l2.6,5.2h-5.2zM504.4,394.1l2.6,5.2h-5.2zM507.3,394.8l2.6,5.2h-5.2zM510.2,395.3l2.6,5.2h-5.2zM513.1,395.8l2.6,5.2h-5.2zM516,396.1l2.6,5.2h-5.2zM518.9,396.4l2.6,5.2h-5.2zM521.8,396.6l2.6,5.2h-5.2zM524.7,396.8l2.6,5.2h-5.2zM527.6,397l2.6,5.2h-5.2zM530.5,397.1l2.6,5.2h-5.2zM533.4,397.3l2.6,5.2h-5.2zM536.3,397.4l2.6,5.2h-5.2zM539.2,397.5l2.6,5.2h-5.2zM542.2,397.6l2.6,5.2h-5.2zM545.1,397.7l2.6,5.2h-5.2zM548,397.8l2.6,5.2h-5.2zM550.9,397.9l2.6,5.2h-5.2zM553.8,398.1l2.6,5.2h-5.2zM556.7,398.2l2.6,5.2h-5.2zM559.6,398.3l2.6,5.2h-5.2zM562.5,398.4l2.6,5.2h-5.2zM565.4,398.5l2.6,5.2h-5.2zM568.3,398.6l2.6,5.2h-5.2zM571.2,398.7l2.6,5.2h-5.2zM574.1,398.8l2.6,5.2h-5.2zM577,398.9l2.6,5.2h-5.2zM579.9,399l2.6,5.2h-5.2zM582.8,399.1l2.6,5.2h-5.2zM585.7,399.2l2.6,5.2h-5.2zM588.6,399.2l2.6,5.2h-5.2zM591.5,399.3l2.6,5.2h-5.2zM594.4,399.4l2.6,5.2h-5.2zM597.4,399.5l2.6,5.2h-5.2zM600.3,399.6l2.6,5.2h-5.2zM603.2,399.7l2.6,5.2h-5.2zM606.1,399.8l2.6,5.2h-5.2zM609,399.8l2.6,5.2h-5.2zM611.9,399.9l2.6,5.2h-5.2zM614.8,400l2.6,5.2h-5.2zM617.7,400l2.6,5.2h-5.2zM620.6,400.1l2.6,5.2h-5.2zM623.5,400.2l2.6,5.2h-5.2zM626.4,400.2l2.6,5.2h-5.2zM629.3,400.3l2.6,5.2h-5.2zM632.2,400.4l2.6,5.2h-5.2zM635.1,400.4l2.6,5.2h-5.2zM638,400.5l2.6,5.2h-5.2zM640.9,400.5l2.6,5.2h-5.2zM643.8,400.6l2.6,5.2h-5.2zM646.7,400.6l2.6,5.2h-5.2zM649.6,400.6l2.6,5.2h-5.2zM652.5,400.7l2.6,5.2h-5.2zM655.5,400.7l2.6,5.2h-5.2zM658.4,400.8l2.6,5.2h-5.2zM661.3,400.8l2.6,5.2h-5.2zM664.2,400.8l2.6,5.2h-5.2zM667.1,400.8l2.6,5.2h-5.2zM670,400.9l2.6,5.2h-5.2zM672.9,400.9l2.6,5.2h-5.2zM675.8,400.9l2.6,5.2h-5.2zM678.7,400.9l2.6,5.2h-5.2zM681.6,400.9l2.6,5.2h-5.2zM684.5,400.9l2.6,5.2h-5.2z" fill="#3c84d6" stroke="#4a47a8" stroke-width="0.8"/>
<polyline transform="scale(1,1.3)" points="103.5,225.77 106.4,217.89 109.3,211.70 112.2,206.28 115.1,201.34 118,196.71 120.9,192.43 123.8,188.52 126.7,184.94 129.6,181.72 132.6,179.66 135.5,178.28 138.4,177.25 141.3,176.33 144.2,175.70 147.1,175.54 150,175.65 152.9,175.83 155.8,176.02 158.7,176.14 161.6,176.14 164.5,176.02 167.4,175.81 170.3,175.53 173.2,174.75 176.1,173.47 179,172.22 181.9,171.02 184.8,169.78 187.7,168.63 190.7,167.71 193.6,167.01 196.5,166.41 199.4,165.89 202.3,165.43 205.2,164.98 208.1,164.51 211,164.12 213.9,163.88 216.8,163.94 219.7,164.64 222.6,165.68 225.5,166.67 228.4,167.45 231.3,168.21 234.2,169.00 237.1,169.90 240,170.99 242.9,172.33 245.8,173.85 248.8,175.47 251.7,177.12 254.6,178.86 257.5,180.70 260.4,182.60 263.3,184.48 266.2,186.28 269.1,188.01 272,189.77 274.9,191.65 277.8,193.78 280.7,196.38 283.6,199.17 286.5,201.77 289.4,203.87 292.3,206.46 295.2,208.93 298.1,211.18 301,213.54 303.9,216.08 306.9,218.72 309.8,221.23 312.7,223.79 315.6,226.35 318.5,228.86 321.4,231.23 324.3,233.41 327.2,235.49 330.1,237.55 333,239.70 335.9,241.97 338.8,244.25 341.7,246.54 344.6,248.91 347.5,251.41 350.4,254.00 353.3,256.54 356.2,258.91 359.1,260.99 362,262.75 364.9,264.38 367.9,265.92 370.8,267.42 373.7,268.92 376.6,270.45 379.5,272.02 382.4,273.58 385.3,275.09 388.2,276.50 391.1,277.71 394,278.74 396.9,279.69 399.8,280.55 402.7,281.34 405.6,282.07 408.5,282.74 411.4,283.31 414.3,283.79 417.2,284.24 420.1,284.60 423.1,284.79 426,284.86 428.9,284.90 431.8,284.97 434.7,285.10 437.6,285.37 440.5,285.75 443.4,286.23 446.3,287.05 449.2,288.22 452.1,289.50 455,290.72 457.9,292.03 460.8,293.37 463.7,294.67 466.6,295.97 469.5,297.26 472.4,298.40 475.3,299.29 478.2,300.02 481.1,300.66 484.1,301.27 487,301.90 489.9,302.56 492.8,303.22 495.7,303.85 498.6,304.44 501.5,304.99 504.4,305.53 507.3,306.05 510.2,306.50 513.1,306.84 516,307.08 518.9,307.28 521.8,307.45 524.7,307.61 527.6,307.74 530.5,307.86 533.4,307.97 536.3,308.06 539.2,308.15 542.2,308.24 545.1,308.32 548,308.41 550.9,308.49 553.8,308.58 556.7,308.66 559.6,308.74 562.5,308.82 565.4,308.90 568.3,308.98 571.2,309.06 574.1,309.13 577,309.21 579.9,309.28 582.8,309.36 585.7,309.43 588.6,309.50 591.5,309.57 594.4,309.63 597.4,309.70 600.3,309.76 603.2,309.82 606.1,309.89 609,309.94 611.9,310.00 614.8,310.06 617.7,310.11 620.6,310.16 623.5,310.21 626.4,310.26 629.3,310.31 632.2,310.35 635.1,310.40 638,310.44 640.9,310.47 643.8,310.51 646.7,310.54 649.6,310.58 652.5,310.61 655.5,310.63 658.4,310.66 661.3,310.68 664.2,310.70 667.1,310.72 670,310.73 672.9,310.75 675.8,310.76 678.7,310.76 681.6,310.77 684.5,310.77" fill="none" stroke="#1fa5de" stroke-width="2.15" stroke-linecap="round" stroke-dasharray="22.5 11.25 0.4 11.25" stroke-dashoffset="9.5"/>
<polyline points="103.5,296 106.4,288 109.3,281.4 112.2,274 115.1,266.4 118,260.3 120.9,255 123.8,250.1 126.7,246 129.6,243.1 132.6,240.8 135.5,239.6 138.4,239 141.3,238.6 144.2,238.7 147.1,239.5 150,240.5 152.9,241.2 155.8,241.9 158.7,242.5 161.6,243 164.5,243.4 167.4,243.6 170.3,243.3 173.2,242.6 176.1,241.8 179,240.9 181.9,240 184.8,239 187.7,237.9 190.7,236.8 193.6,235.7 196.5,234.6 199.4,233.4 202.3,232.3 205.2,231.3 208.1,230.2 211,229.8 213.9,230.2 216.8,230.7 219.7,231.4 222.6,232.3 225.5,233.3 228.4,234.3 231.3,235.4 234.2,236.6 237.1,237.9 240,239.2 242.9,240.6 245.8,242.1 248.8,243.6 251.7,245.2 254.6,246.8 257.5,248.4 260.4,250.1 263.3,251.9 266.2,254 269.1,256.3 272,258.1 274.9,259.9 277.8,262.2 280.7,265.1 283.6,268.5 286.5,272 289.4,275.5 292.3,279.2 295.2,282.9 298.1,286.4 301,290.2 303.9,294 306.9,297.4 309.8,300.1 312.7,302.7 315.6,305.2 318.5,307.8 321.4,309.8 324.3,310.6 327.2,312.8 330.1,315.5 333,318.8 335.9,322.5 338.8,326.1 341.7,329.3 344.6,332.2 347.5,335 350.4,337.7 353.3,340.2 356.2,342.6 359.1,345 362,347.2 364.9,349.2 367.9,351.1 370.8,352.8 373.7,354.4 376.6,355.8 379.5,357.2 382.4,358.6 385.3,360.1 388.2,361.6 391.1,363 394,364.2 396.9,365.4 399.8,366.5 402.7,367.4 405.6,368.2 408.5,368.9 411.4,369.5 414.3,370 417.2,370.5 420.1,370.9 423.1,371 426,371 428.9,371 431.8,371 434.7,371.1 437.6,371.3 440.5,371.8 443.4,372.4 446.3,373.4 449.2,375 452.1,376.7 455,378.4 457.9,380.2 460.8,382.1 463.7,383.9 466.6,385.5 469.5,387.1 472.4,388.4 475.3,389.6 478.2,390.5 481.1,391.3 484.1,392 487,392.9 489.9,393.8 492.8,394.7 495.7,395.6 498.6,396.5 501.5,397.2 504.4,398 507.3,398.7 510.2,399.3 513.1,399.7 516,400 518.9,400.2 521.8,400.3 524.7,400.5 527.6,400.6 530.5,400.7 533.4,400.8 536.3,400.9 539.2,401 542.2,401.1 545.1,401.1 548,401.2 550.9,401.3 553.8,401.4 556.7,401.4 559.6,401.5 562.5,401.6 565.4,401.7 568.3,401.7 571.2,401.8 574.1,401.9 577,402 579.9,402 582.8,402.1 585.7,402.2 588.6,402.3 591.5,402.3 594.4,402.4 597.4,402.5 600.3,402.6 603.2,402.6 606.1,402.7 609,402.8 611.9,402.9 614.8,402.9 617.7,403 620.6,403.1 623.5,403.2 626.4,403.2 629.3,403.3 632.2,403.4 635.1,403.4 638,403.5 640.9,403.6 643.8,403.7 646.7,403.7 649.6,403.8 652.5,403.9 655.5,404 658.4,404 661.3,404.1 664.2,404.2 667.1,404.3 670,404.3 672.9,404.4 675.8,404.5 678.7,404.5 681.6,404.6 684.5,404.7" fill="none" stroke="#7a3fb3" stroke-width="2.2"/>
<path d="M100.1,292.6l6.8,6.8M106.9,292.6l-6.8,6.8M103.5,291.3v9.4M103,284.6l6.8,6.8M109.8,284.6l-6.8,6.8M106.4,283.3v9.4M105.9,278l6.8,6.8M112.7,278l-6.8,6.8M109.3,276.7v9.4M108.8,270.6l6.8,6.8M115.6,270.6l-6.8,6.8M112.2,269.3v9.4M111.7,263.1l6.8,6.8M118.5,263.1l-6.8,6.8M115.1,261.7v9.4M114.6,256.9l6.8,6.8M121.4,256.9l-6.8,6.8M118,255.6v9.4M117.5,251.6l6.8,6.8M124.3,251.6l-6.8,6.8M120.9,250.3v9.4M120.5,246.7l6.8,6.8M127.2,246.7l-6.8,6.8M123.8,245.4v9.4M123.4,242.6l6.8,6.8M130.1,242.6l-6.8,6.8M126.7,241.3v9.4M126.3,239.7l6.8,6.8M133,239.7l-6.8,6.8M129.6,238.4v9.4M129.2,237.4l6.8,6.8M135.9,237.4l-6.8,6.8M132.6,236.1v9.4M132.1,236.3l6.8,6.8M138.8,236.3l-6.8,6.8M135.5,234.9v9.4M135,235.6l6.8,6.8M141.7,235.6l-6.8,6.8M138.4,234.3v9.4M137.9,235.2l6.8,6.8M144.6,235.2l-6.8,6.8M141.3,233.9v9.4M140.8,235.3l6.8,6.8M147.6,235.3l-6.8,6.8M144.2,234v9.4M143.7,236.2l6.8,6.8M150.5,236.2l-6.8,6.8M147.1,234.8v9.4M146.6,237.1l6.8,6.8M153.4,237.1l-6.8,6.8M150,235.8v9.4M149.5,237.8l6.8,6.8M156.3,237.8l-6.8,6.8M152.9,236.5v9.4M152.4,238.5l6.8,6.8M159.2,238.5l-6.8,6.8M155.8,237.2v9.4M155.3,239.1l6.8,6.8M162.1,239.1l-6.8,6.8M158.7,237.8v9.4M158.2,239.6l6.8,6.8M165,239.6l-6.8,6.8M161.6,238.3v9.4M161.1,240.1l6.8,6.8M167.9,240.1l-6.8,6.8M164.5,238.7v9.4M164,240.2l6.8,6.8M170.8,240.2l-6.8,6.8M167.4,238.9v9.4M166.9,239.9l6.8,6.8M173.7,239.9l-6.8,6.8M170.3,238.6v9.4M169.8,239.2l6.8,6.8M176.6,239.2l-6.8,6.8M173.2,237.9v9.4M172.7,238.4l6.8,6.8M179.5,238.4l-6.8,6.8M176.1,237.1v9.4M175.6,237.6l6.8,6.8M182.4,237.6l-6.8,6.8M179,236.2v9.4M178.6,236.7l6.8,6.8M185.3,236.7l-6.8,6.8M181.9,235.3v9.4M181.5,235.6l6.8,6.8M188.2,235.6l-6.8,6.8M184.8,234.3v9.4M184.4,234.5l6.8,6.8M191.1,234.5l-6.8,6.8M187.7,233.2v9.4M187.3,233.4l6.8,6.8M194,233.4l-6.8,6.8M190.7,232.1v9.4M190.2,232.3l6.8,6.8M196.9,232.3l-6.8,6.8M193.6,231v9.4M193.1,231.2l6.8,6.8M199.8,231.2l-6.8,6.8M196.5,229.9v9.4M196,230.1l6.8,6.8M202.7,230.1l-6.8,6.8M199.4,228.7v9.4M198.9,229l6.8,6.8M205.7,229l-6.8,6.8M202.3,227.6v9.4M201.8,227.9l6.8,6.8M208.6,227.9l-6.8,6.8M205.2,226.6v9.4M204.7,226.8l6.8,6.8M211.5,226.8l-6.8,6.8M208.1,225.5v9.4M207.6,226.4l6.8,6.8M214.4,226.4l-6.8,6.8M211,225.1v9.4M210.5,226.8l6.8,6.8M217.3,226.8l-6.8,6.8M213.9,225.5v9.4M213.4,227.3l6.8,6.8M220.2,227.3l-6.8,6.8M216.8,226v9.4M216.3,228l6.8,6.8M223.1,228l-6.8,6.8M219.7,226.7v9.4M219.2,228.9l6.8,6.8M226,228.9l-6.8,6.8M222.6,227.6v9.4M222.1,229.9l6.8,6.8M228.9,229.9l-6.8,6.8M225.5,228.6v9.4M225,230.9l6.8,6.8M231.8,230.9l-6.8,6.8M228.4,229.6v9.4M227.9,232l6.8,6.8M234.7,232l-6.8,6.8M231.3,230.7v9.4M230.8,233.2l6.8,6.8M237.6,233.2l-6.8,6.8M234.2,231.9v9.4M233.7,234.5l6.8,6.8M240.5,234.5l-6.8,6.8M237.1,233.2v9.4M236.7,235.8l6.8,6.8M243.4,235.8l-6.8,6.8M240,234.5v9.4M239.6,237.2l6.8,6.8M246.3,237.2l-6.8,6.8M242.9,235.9v9.4M242.5,238.7l6.8,6.8M249.2,238.7l-6.8,6.8M245.8,237.4v9.4M245.4,240.2l6.8,6.8M252.1,240.2l-6.8,6.8M248.8,238.9v9.4M248.3,241.8l6.8,6.8M255,241.8l-6.8,6.8M251.7,240.5v9.4M251.2,243.4l6.8,6.8M257.9,243.4l-6.8,6.8M254.6,242.1v9.4M254.1,245l6.8,6.8M260.8,245l-6.8,6.8M257.5,243.7v9.4M257,246.7l6.8,6.8M263.8,246.7l-6.8,6.8M260.4,245.4v9.4M259.9,248.6l6.8,6.8M266.7,248.6l-6.8,6.8M263.3,247.2v9.4M262.8,250.6l6.8,6.8M269.6,250.6l-6.8,6.8M266.2,249.3v9.4M265.7,252.9l6.8,6.8M272.5,252.9l-6.8,6.8M269.1,251.6v9.4M268.6,254.7l6.8,6.8M275.4,254.7l-6.8,6.8M272,253.4v9.4M271.5,256.5l6.8,6.8M278.3,256.5l-6.8,6.8M274.9,255.2v9.4M274.4,258.8l6.8,6.8M281.2,258.8l-6.8,6.8M277.8,257.5v9.4M277.3,261.7l6.8,6.8M284.1,261.7l-6.8,6.8M280.7,260.4v9.4M280.2,265.1l6.8,6.8M287,265.1l-6.8,6.8M283.6,263.8v9.4M283.1,268.6l6.8,6.8M289.9,268.6l-6.8,6.8M286.5,267.3v9.4M286,272.1l6.8,6.8M292.8,272.1l-6.8,6.8M289.4,270.8v9.4M288.9,275.8l6.8,6.8M295.7,275.8l-6.8,6.8M292.3,274.5v9.4M291.8,279.5l6.8,6.8M298.6,279.5l-6.8,6.8M295.2,278.2v9.4M294.8,283l6.8,6.8M301.5,283l-6.8,6.8M298.1,281.7v9.4M297.7,286.8l6.8,6.8M304.4,286.8l-6.8,6.8M301,285.5v9.4M300.6,290.6l6.8,6.8M307.3,290.6l-6.8,6.8M303.9,289.3v9.4M303.5,294l6.8,6.8M310.2,294l-6.8,6.8M306.9,292.7v9.4M306.4,296.7l6.8,6.8M313.1,296.7l-6.8,6.8M309.8,295.4v9.4M309.3,299.3l6.8,6.8M316,299.3l-6.8,6.8M312.7,298v9.4M312.2,301.8l6.8,6.8M318.9,301.8l-6.8,6.8M315.6,300.5v9.4M315.1,304.4l6.8,6.8M321.9,304.4l-6.8,6.8M318.5,303.1v9.4M318,306.4l6.8,6.8M324.8,306.4l-6.8,6.8M321.4,305.1v9.4M320.9,307.2l6.8,6.8M327.7,307.2l-6.8,6.8M324.3,305.9v9.4M323.8,309.4l6.8,6.8M330.6,309.4l-6.8,6.8M327.2,308.1v9.4M326.7,312.1l6.8,6.8M333.5,312.1l-6.8,6.8M330.1,310.8v9.4M329.6,315.4l6.8,6.8M336.4,315.4l-6.8,6.8M333,314.1v9.4M332.5,319.1l6.8,6.8M339.3,319.1l-6.8,6.8M335.9,317.8v9.4M335.4,322.7l6.8,6.8M342.2,322.7l-6.8,6.8M338.8,321.4v9.4M338.3,325.9l6.8,6.8M345.1,325.9l-6.8,6.8M341.7,324.6v9.4M341.2,328.8l6.8,6.8M348,328.8l-6.8,6.8M344.6,327.5v9.4M344.1,331.6l6.8,6.8M350.9,331.6l-6.8,6.8M347.5,330.3v9.4M347,334.3l6.8,6.8M353.8,334.3l-6.8,6.8M350.4,333v9.4M349.9,336.8l6.8,6.8M356.7,336.8l-6.8,6.8M353.3,335.5v9.4M352.9,339.3l6.8,6.8M359.6,339.3l-6.8,6.8M356.2,337.9v9.4M355.8,341.6l6.8,6.8M362.5,341.6l-6.8,6.8M359.1,340.3v9.4M358.7,343.8l6.8,6.8M365.4,343.8l-6.8,6.8M362,342.5v9.4M361.6,345.8l6.8,6.8M368.3,345.8l-6.8,6.8M364.9,344.5v9.4M364.5,347.7l6.8,6.8M371.2,347.7l-6.8,6.8M367.9,346.4v9.4M367.4,349.4l6.8,6.8M374.1,349.4l-6.8,6.8M370.8,348.1v9.4M370.3,351l6.8,6.8M377,351l-6.8,6.8M373.7,349.7v9.4M373.2,352.4l6.8,6.8M380,352.4l-6.8,6.8M376.6,351.1v9.4M376.1,353.8l6.8,6.8M382.9,353.8l-6.8,6.8M379.5,352.5v9.4M379,355.3l6.8,6.8M385.8,355.3l-6.8,6.8M382.4,353.9v9.4M381.9,356.7l6.8,6.8M388.7,356.7l-6.8,6.8M385.3,355.4v9.4M384.8,358.2l6.8,6.8M391.6,358.2l-6.8,6.8M388.2,356.9v9.4M387.7,359.6l6.8,6.8M394.5,359.6l-6.8,6.8M391.1,358.3v9.4M390.6,360.9l6.8,6.8M397.4,360.9l-6.8,6.8M394,359.5v9.4M393.5,362l6.8,6.8M400.3,362l-6.8,6.8M396.9,360.7v9.4M396.4,363.1l6.8,6.8M403.2,363.1l-6.8,6.8M399.8,361.8v9.4M399.3,364l6.8,6.8M406.1,364l-6.8,6.8M402.7,362.7v9.4M402.2,364.8l6.8,6.8M409,364.8l-6.8,6.8M405.6,363.5v9.4M405.1,365.6l6.8,6.8M411.9,365.6l-6.8,6.8M408.5,364.2v9.4M408,366.2l6.8,6.8M414.8,366.2l-6.8,6.8M411.4,364.8v9.4M411,366.7l6.8,6.8M417.7,366.7l-6.8,6.8M414.3,365.3v9.4M413.9,367.1l6.8,6.8M420.6,367.1l-6.8,6.8M417.2,365.8v9.4M416.8,367.5l6.8,6.8M423.5,367.5l-6.8,6.8M420.1,366.2v9.4M419.7,367.6l6.8,6.8M426.4,367.6l-6.8,6.8M423.1,366.3v9.4M422.6,367.6l6.8,6.8M429.3,367.6l-6.8,6.8M426,366.3v9.4M425.5,367.6l6.8,6.8M432.2,367.6l-6.8,6.8M428.9,366.3v9.4M428.4,367.6l6.8,6.8M435.1,367.6l-6.8,6.8M431.8,366.3v9.4M431.3,367.7l6.8,6.8M438.1,367.7l-6.8,6.8M434.7,366.4v9.4M434.2,368l6.8,6.8M441,368l-6.8,6.8M437.6,366.6v9.4M437.1,368.4l6.8,6.8M443.9,368.4l-6.8,6.8M440.5,367.1v9.4M440,369l6.8,6.8M446.8,369l-6.8,6.8M443.4,367.7v9.4M442.9,370.1l6.8,6.8M449.7,370.1l-6.8,6.8M446.3,368.7v9.4M445.8,371.6l6.8,6.8M452.6,371.6l-6.8,6.8M449.2,370.3v9.4M448.7,373.3l6.8,6.8M455.5,373.3l-6.8,6.8M452.1,372v9.4M451.6,375l6.8,6.8M458.4,375l-6.8,6.8M455,373.7v9.4M454.5,376.9l6.8,6.8M461.3,376.9l-6.8,6.8M457.9,375.5v9.4M457.4,378.7l6.8,6.8M464.2,378.7l-6.8,6.8M460.8,377.4v9.4M460.3,380.5l6.8,6.8M467.1,380.5l-6.8,6.8M463.7,379.2v9.4M463.2,382.1l6.8,6.8M470,382.1l-6.8,6.8M466.6,380.8v9.4M466.1,383.7l6.8,6.8M472.9,383.7l-6.8,6.8M469.5,382.4v9.4M469.1,385.1l6.8,6.8M475.8,385.1l-6.8,6.8M472.4,383.7v9.4M472,386.2l6.8,6.8M478.7,386.2l-6.8,6.8M475.3,384.9v9.4M474.9,387.1l6.8,6.8M481.6,387.1l-6.8,6.8M478.2,385.8v9.4M477.8,387.9l6.8,6.8M484.5,387.9l-6.8,6.8M481.1,386.6v9.4M480.7,388.7l6.8,6.8M487.4,388.7l-6.8,6.8M484.1,387.3v9.4M483.6,389.5l6.8,6.8M490.3,389.5l-6.8,6.8M487,388.2v9.4M486.5,390.4l6.8,6.8M493.2,390.4l-6.8,6.8M489.9,389.1v9.4M489.4,391.3l6.8,6.8M496.2,391.3l-6.8,6.8M492.8,390v9.4M492.3,392.2l6.8,6.8M499.1,392.2l-6.8,6.8M495.7,390.9v9.4M495.2,393.1l6.8,6.8M502,393.1l-6.8,6.8M498.6,391.8v9.4M498.1,393.8l6.8,6.8M504.9,393.8l-6.8,6.8M501.5,392.5v9.4M501,394.6l6.8,6.8M507.8,394.6l-6.8,6.8M504.4,393.3v9.4M503.9,395.3l6.8,6.8M510.7,395.3l-6.8,6.8M507.3,394v9.4M506.8,395.9l6.8,6.8M513.6,395.9l-6.8,6.8M510.2,394.6v9.4M509.7,396.3l6.8,6.8M516.5,396.3l-6.8,6.8M513.1,395v9.4M512.6,396.6l6.8,6.8M519.4,396.6l-6.8,6.8M516,395.3v9.4M515.5,396.8l6.8,6.8M522.3,396.8l-6.8,6.8M518.9,395.5v9.4M518.4,396.9l6.8,6.8M525.2,396.9l-6.8,6.8M521.8,395.6v9.4M521.3,397.1l6.8,6.8M528.1,397.1l-6.8,6.8M524.7,395.8v9.4M524.2,397.2l6.8,6.8M531,397.2l-6.8,6.8M527.6,395.9v9.4M527.2,397.3l6.8,6.8M533.9,397.3l-6.8,6.8M530.5,396v9.4M530.1,397.4l6.8,6.8M536.8,397.4l-6.8,6.8M533.4,396.1v9.4M533,397.5l6.8,6.8M539.7,397.5l-6.8,6.8M536.3,396.2v9.4M535.9,397.6l6.8,6.8M542.6,397.6l-6.8,6.8M539.2,396.3v9.4M538.8,397.7l6.8,6.8M545.5,397.7l-6.8,6.8M542.2,396.4v9.4M541.7,397.8l6.8,6.8M548.4,397.8l-6.8,6.8M545.1,396.4v9.4M544.6,397.8l6.8,6.8M551.3,397.8l-6.8,6.8M548,396.5v9.4M547.5,397.9l6.8,6.8M554.3,397.9l-6.8,6.8M550.9,396.6v9.4M550.4,398l6.8,6.8M557.2,398l-6.8,6.8M553.8,396.7v9.4M553.3,398l6.8,6.8M560.1,398l-6.8,6.8M556.7,396.7v9.4M556.2,398.1l6.8,6.8M563,398.1l-6.8,6.8M559.6,396.8v9.4M559.1,398.2l6.8,6.8M565.9,398.2l-6.8,6.8M562.5,396.9v9.4M562,398.3l6.8,6.8M568.8,398.3l-6.8,6.8M565.4,397v9.4M564.9,398.3l6.8,6.8M571.7,398.3l-6.8,6.8M568.3,397v9.4M567.8,398.4l6.8,6.8M574.6,398.4l-6.8,6.8M571.2,397.1v9.4M570.7,398.5l6.8,6.8M577.5,398.5l-6.8,6.8M574.1,397.2v9.4M573.6,398.6l6.8,6.8M580.4,398.6l-6.8,6.8M577,397.3v9.4M576.5,398.6l6.8,6.8M583.3,398.6l-6.8,6.8M579.9,397.3v9.4M579.4,398.7l6.8,6.8M586.2,398.7l-6.8,6.8M582.8,397.4v9.4M582.3,398.8l6.8,6.8M589.1,398.8l-6.8,6.8M585.7,397.5v9.4M585.3,398.9l6.8,6.8M592,398.9l-6.8,6.8M588.6,397.6v9.4M588.2,398.9l6.8,6.8M594.9,398.9l-6.8,6.8M591.5,397.6v9.4M591.1,399l6.8,6.8M597.8,399l-6.8,6.8M594.4,397.7v9.4M594,399.1l6.8,6.8M600.7,399.1l-6.8,6.8M597.4,397.8v9.4M596.9,399.2l6.8,6.8M603.6,399.2l-6.8,6.8M600.3,397.9v9.4M599.8,399.2l6.8,6.8M606.5,399.2l-6.8,6.8M603.2,397.9v9.4M602.7,399.3l6.8,6.8M609.4,399.3l-6.8,6.8M606.1,398v9.4M605.6,399.4l6.8,6.8M612.4,399.4l-6.8,6.8M609,398.1v9.4M608.5,399.5l6.8,6.8M615.3,399.5l-6.8,6.8M611.9,398.2v9.4M611.4,399.5l6.8,6.8M618.2,399.5l-6.8,6.8M614.8,398.2v9.4M614.3,399.6l6.8,6.8M621.1,399.6l-6.8,6.8M617.7,398.3v9.4M617.2,399.7l6.8,6.8M624,399.7l-6.8,6.8M620.6,398.4v9.4M620.1,399.8l6.8,6.8M626.9,399.8l-6.8,6.8M623.5,398.5v9.4M623,399.8l6.8,6.8M629.8,399.8l-6.8,6.8M626.4,398.5v9.4M625.9,399.9l6.8,6.8M632.7,399.9l-6.8,6.8M629.3,398.6v9.4M628.8,400l6.8,6.8M635.6,400l-6.8,6.8M632.2,398.7v9.4M631.7,400.1l6.8,6.8M638.5,400.1l-6.8,6.8M635.1,398.7v9.4M634.6,400.1l6.8,6.8M641.4,400.1l-6.8,6.8M638,398.8v9.4M637.5,400.2l6.8,6.8M644.3,400.2l-6.8,6.8M640.9,398.9v9.4M640.4,400.3l6.8,6.8M647.2,400.3l-6.8,6.8M643.8,399v9.4M643.4,400.4l6.8,6.8M650.1,400.4l-6.8,6.8M646.7,399v9.4M646.3,400.4l6.8,6.8M653,400.4l-6.8,6.8M649.6,399.1v9.4M649.2,400.5l6.8,6.8M655.9,400.5l-6.8,6.8M652.5,399.2v9.4M652.1,400.6l6.8,6.8M658.8,400.6l-6.8,6.8M655.5,399.3v9.4M655,400.7l6.8,6.8M661.7,400.7l-6.8,6.8M658.4,399.3v9.4M657.9,400.7l6.8,6.8M664.6,400.7l-6.8,6.8M661.3,399.4v9.4M660.8,400.8l6.8,6.8M667.5,400.8l-6.8,6.8M664.2,399.5v9.4M663.7,400.9l6.8,6.8M670.5,400.9l-6.8,6.8M667.1,399.6v9.4M666.6,400.9l6.8,6.8M673.4,400.9l-6.8,6.8M670,399.6v9.4M669.5,401l6.8,6.8M676.3,401l-6.8,6.8M672.9,399.7v9.4M672.4,401.1l6.8,6.8M679.2,401.1l-6.8,6.8M675.8,399.8v9.4M675.3,401.2l6.8,6.8M682.1,401.2l-6.8,6.8M678.7,399.8v9.4M678.2,401.2l6.8,6.8M685,401.2l-6.8,6.8M681.6,399.9v9.4M681.1,401.3l6.8,6.8M687.9,401.3l-6.8,6.8M684.5,400v9.4" fill="none" stroke="#7a3fb3" stroke-width="1.15"/>
<polyline points="103.5,313 106.4,304.8 109.3,299.5 112.2,294.6 115.1,289.4 118,284.2 120.9,279.1 123.8,273.9 126.7,269 129.6,265.3 132.6,262.3 135.5,260.6 138.4,260.6 141.3,261 144.2,261.5 147.1,262.2 150,263.4 152.9,264.7 155.8,266.3 158.7,267.9 161.6,269 164.5,269.5 167.4,269.5 170.3,268.6 173.2,267 176.1,265.4 179,264.2 181.9,263.2 184.8,262.2 187.7,261.3 190.7,260.5 193.6,259.9 196.5,259.3 199.4,258.8 202.3,258.3 205.2,257.9 208.1,257.4 211,256.9 213.9,256.6 216.8,256.5 219.7,256.8 222.6,257.4 225.5,258.1 228.4,258.9 231.3,259.8 234.2,260.9 237.1,262 240,263.1 242.9,264.1 245.8,265.2 248.8,266.4 251.7,267.7 254.6,269.1 257.5,270.6 260.4,272.2 263.3,274 266.2,275.9 269.1,278 272,280.2 274.9,282.5 277.8,284.8 280.7,287.4 283.6,290.1 286.5,293 289.4,296.1 292.3,299.5 295.2,302.9 298.1,305.8 301,308.4 303.9,310.9 306.9,313.2 309.8,315.4 312.7,317.4 315.6,319.3 318.5,321.4 321.4,323.8 324.3,326.8 327.2,329.9 330.1,333 333,335.7 335.9,338.4 338.8,341 341.7,343.5 344.6,345.9 347.5,348.2 350.4,350.5 353.3,353 356.2,355.7 359.1,358.2 362,360.1 364.9,361.3 367.9,362.2 370.8,363.2 373.7,364.4 376.6,365.7 379.5,367 382.4,368.3 385.3,369.6 388.2,370.8 391.1,372 394,373 396.9,373.9 399.8,374.8 402.7,375.6 405.6,376.5 408.5,377.3 411.4,378 414.3,378.5 417.2,379.1 420.1,379.5 423.1,379.8 426,379.9 428.9,380.1 431.8,380.2 434.7,380.3 437.6,380.9 440.5,381.6 443.4,382.5 446.3,383.6 449.2,385 452.1,386.5 455,387.9 457.9,389.5 460.8,391 463.7,392.4 466.6,393.7 469.5,394.8 472.4,395.9 475.3,396.9 478.2,397.9 481.1,398.9 484.1,399.8 487,400.7 489.9,401.5 492.8,402.3 495.7,403.1 498.6,403.8 501.5,404.4 504.4,404.9 507.3,405.4 510.2,405.9 513.1,406.4 516,406.7 518.9,407 521.8,407.2 524.7,407.5 527.6,407.7 530.5,407.9 533.4,408.1 536.3,408.3 539.2,408.4 542.2,408.6 545.1,408.8 548,408.9 550.9,409 553.8,409.1 556.7,409.2 559.6,409.3 562.5,409.4 565.4,409.4 568.3,409.5 571.2,409.5 574.1,409.6 577,409.6 579.9,409.6 582.8,409.7 585.7,409.7 588.6,409.8 591.5,409.8 594.4,409.9 597.4,409.9 600.3,409.9 603.2,410 606.1,410 609,410 611.9,410.1 614.8,410.1 617.7,410.1 620.6,410.2 623.5,410.2 626.4,410.2 629.3,410.3 632.2,410.3 635.1,410.3 638,410.3 640.9,410.3 643.8,410.4 646.7,410.4 649.6,410.4 652.5,410.4 655.5,410.4 658.4,410.4 661.3,410.5 664.2,410.5 667.1,410.5 670,410.5 672.9,410.5 675.8,410.5 678.7,410.5 681.6,410.5 684.5,410.5" fill="none" stroke="#c07a38" stroke-width="1.2"/>
<path d="M103.5,309.7l3.3,3.3l-3.3,3.3l-3.3,-3.3zM106.4,301.5l3.3,3.3l-3.3,3.3l-3.3,-3.3zM109.3,296.2l3.3,3.3l-3.3,3.3l-3.3,-3.3zM112.2,291.3l3.3,3.3l-3.3,3.3l-3.3,-3.3zM115.1,286.1l3.3,3.3l-3.3,3.3l-3.3,-3.3zM118,280.9l3.3,3.3l-3.3,3.3l-3.3,-3.3zM120.9,275.8l3.3,3.3l-3.3,3.3l-3.3,-3.3zM123.8,270.6l3.3,3.3l-3.3,3.3l-3.3,-3.3zM126.7,265.7l3.3,3.3l-3.3,3.3l-3.3,-3.3zM129.6,262l3.3,3.3l-3.3,3.3l-3.3,-3.3zM132.6,259l3.3,3.3l-3.3,3.3l-3.3,-3.3zM135.5,257.3l3.3,3.3l-3.3,3.3l-3.3,-3.3zM138.4,257.3l3.3,3.3l-3.3,3.3l-3.3,-3.3zM141.3,257.7l3.3,3.3l-3.3,3.3l-3.3,-3.3zM144.2,258.2l3.3,3.3l-3.3,3.3l-3.3,-3.3zM147.1,258.9l3.3,3.3l-3.3,3.3l-3.3,-3.3zM150,260.1l3.3,3.3l-3.3,3.3l-3.3,-3.3zM152.9,261.4l3.3,3.3l-3.3,3.3l-3.3,-3.3zM155.8,263l3.3,3.3l-3.3,3.3l-3.3,-3.3zM158.7,264.6l3.3,3.3l-3.3,3.3l-3.3,-3.3zM161.6,265.7l3.3,3.3l-3.3,3.3l-3.3,-3.3zM164.5,266.2l3.3,3.3l-3.3,3.3l-3.3,-3.3zM167.4,266.2l3.3,3.3l-3.3,3.3l-3.3,-3.3zM170.3,265.3l3.3,3.3l-3.3,3.3l-3.3,-3.3zM173.2,263.7l3.3,3.3l-3.3,3.3l-3.3,-3.3zM176.1,262.1l3.3,3.3l-3.3,3.3l-3.3,-3.3zM179,260.9l3.3,3.3l-3.3,3.3l-3.3,-3.3zM181.9,259.9l3.3,3.3l-3.3,3.3l-3.3,-3.3zM184.8,258.9l3.3,3.3l-3.3,3.3l-3.3,-3.3zM187.7,258l3.3,3.3l-3.3,3.3l-3.3,-3.3zM190.7,257.2l3.3,3.3l-3.3,3.3l-3.3,-3.3zM193.6,256.6l3.3,3.3l-3.3,3.3l-3.3,-3.3zM196.5,256l3.3,3.3l-3.3,3.3l-3.3,-3.3zM199.4,255.5l3.3,3.3l-3.3,3.3l-3.3,-3.3zM202.3,255l3.3,3.3l-3.3,3.3l-3.3,-3.3zM205.2,254.6l3.3,3.3l-3.3,3.3l-3.3,-3.3zM208.1,254.1l3.3,3.3l-3.3,3.3l-3.3,-3.3zM211,253.6l3.3,3.3l-3.3,3.3l-3.3,-3.3zM213.9,253.3l3.3,3.3l-3.3,3.3l-3.3,-3.3zM216.8,253.2l3.3,3.3l-3.3,3.3l-3.3,-3.3zM219.7,253.5l3.3,3.3l-3.3,3.3l-3.3,-3.3zM222.6,254.1l3.3,3.3l-3.3,3.3l-3.3,-3.3zM225.5,254.8l3.3,3.3l-3.3,3.3l-3.3,-3.3zM228.4,255.6l3.3,3.3l-3.3,3.3l-3.3,-3.3zM231.3,256.5l3.3,3.3l-3.3,3.3l-3.3,-3.3zM234.2,257.6l3.3,3.3l-3.3,3.3l-3.3,-3.3zM237.1,258.7l3.3,3.3l-3.3,3.3l-3.3,-3.3zM240,259.8l3.3,3.3l-3.3,3.3l-3.3,-3.3zM242.9,260.8l3.3,3.3l-3.3,3.3l-3.3,-3.3zM245.8,261.9l3.3,3.3l-3.3,3.3l-3.3,-3.3zM248.8,263.1l3.3,3.3l-3.3,3.3l-3.3,-3.3zM251.7,264.4l3.3,3.3l-3.3,3.3l-3.3,-3.3zM254.6,265.8l3.3,3.3l-3.3,3.3l-3.3,-3.3zM257.5,267.3l3.3,3.3l-3.3,3.3l-3.3,-3.3zM260.4,268.9l3.3,3.3l-3.3,3.3l-3.3,-3.3zM263.3,270.7l3.3,3.3l-3.3,3.3l-3.3,-3.3zM266.2,272.6l3.3,3.3l-3.3,3.3l-3.3,-3.3zM269.1,274.7l3.3,3.3l-3.3,3.3l-3.3,-3.3zM272,276.9l3.3,3.3l-3.3,3.3l-3.3,-3.3zM274.9,279.2l3.3,3.3l-3.3,3.3l-3.3,-3.3zM277.8,281.5l3.3,3.3l-3.3,3.3l-3.3,-3.3zM280.7,284.1l3.3,3.3l-3.3,3.3l-3.3,-3.3zM283.6,286.8l3.3,3.3l-3.3,3.3l-3.3,-3.3zM286.5,289.7l3.3,3.3l-3.3,3.3l-3.3,-3.3zM289.4,292.8l3.3,3.3l-3.3,3.3l-3.3,-3.3zM292.3,296.2l3.3,3.3l-3.3,3.3l-3.3,-3.3zM295.2,299.6l3.3,3.3l-3.3,3.3l-3.3,-3.3zM298.1,302.5l3.3,3.3l-3.3,3.3l-3.3,-3.3zM301,305.1l3.3,3.3l-3.3,3.3l-3.3,-3.3zM303.9,307.6l3.3,3.3l-3.3,3.3l-3.3,-3.3zM306.9,309.9l3.3,3.3l-3.3,3.3l-3.3,-3.3zM309.8,312.1l3.3,3.3l-3.3,3.3l-3.3,-3.3zM312.7,314.1l3.3,3.3l-3.3,3.3l-3.3,-3.3zM315.6,316l3.3,3.3l-3.3,3.3l-3.3,-3.3zM318.5,318.1l3.3,3.3l-3.3,3.3l-3.3,-3.3zM321.4,320.5l3.3,3.3l-3.3,3.3l-3.3,-3.3zM324.3,323.5l3.3,3.3l-3.3,3.3l-3.3,-3.3zM327.2,326.6l3.3,3.3l-3.3,3.3l-3.3,-3.3zM330.1,329.7l3.3,3.3l-3.3,3.3l-3.3,-3.3zM333,332.4l3.3,3.3l-3.3,3.3l-3.3,-3.3zM335.9,335.1l3.3,3.3l-3.3,3.3l-3.3,-3.3zM338.8,337.7l3.3,3.3l-3.3,3.3l-3.3,-3.3zM341.7,340.2l3.3,3.3l-3.3,3.3l-3.3,-3.3zM344.6,342.6l3.3,3.3l-3.3,3.3l-3.3,-3.3zM347.5,344.9l3.3,3.3l-3.3,3.3l-3.3,-3.3zM350.4,347.2l3.3,3.3l-3.3,3.3l-3.3,-3.3zM353.3,349.7l3.3,3.3l-3.3,3.3l-3.3,-3.3zM356.2,352.4l3.3,3.3l-3.3,3.3l-3.3,-3.3zM359.1,354.9l3.3,3.3l-3.3,3.3l-3.3,-3.3zM362,356.8l3.3,3.3l-3.3,3.3l-3.3,-3.3zM364.9,358l3.3,3.3l-3.3,3.3l-3.3,-3.3zM367.9,358.9l3.3,3.3l-3.3,3.3l-3.3,-3.3zM370.8,359.9l3.3,3.3l-3.3,3.3l-3.3,-3.3zM373.7,361.1l3.3,3.3l-3.3,3.3l-3.3,-3.3zM376.6,362.4l3.3,3.3l-3.3,3.3l-3.3,-3.3zM379.5,363.7l3.3,3.3l-3.3,3.3l-3.3,-3.3zM382.4,365l3.3,3.3l-3.3,3.3l-3.3,-3.3zM385.3,366.3l3.3,3.3l-3.3,3.3l-3.3,-3.3zM388.2,367.5l3.3,3.3l-3.3,3.3l-3.3,-3.3zM391.1,368.7l3.3,3.3l-3.3,3.3l-3.3,-3.3zM394,369.7l3.3,3.3l-3.3,3.3l-3.3,-3.3zM396.9,370.6l3.3,3.3l-3.3,3.3l-3.3,-3.3zM399.8,371.5l3.3,3.3l-3.3,3.3l-3.3,-3.3zM402.7,372.3l3.3,3.3l-3.3,3.3l-3.3,-3.3zM405.6,373.2l3.3,3.3l-3.3,3.3l-3.3,-3.3zM408.5,374l3.3,3.3l-3.3,3.3l-3.3,-3.3zM411.4,374.7l3.3,3.3l-3.3,3.3l-3.3,-3.3zM414.3,375.2l3.3,3.3l-3.3,3.3l-3.3,-3.3zM417.2,375.8l3.3,3.3l-3.3,3.3l-3.3,-3.3zM420.1,376.2l3.3,3.3l-3.3,3.3l-3.3,-3.3zM423.1,376.5l3.3,3.3l-3.3,3.3l-3.3,-3.3zM426,376.6l3.3,3.3l-3.3,3.3l-3.3,-3.3zM428.9,376.8l3.3,3.3l-3.3,3.3l-3.3,-3.3zM431.8,376.9l3.3,3.3l-3.3,3.3l-3.3,-3.3zM434.7,377l3.3,3.3l-3.3,3.3l-3.3,-3.3zM437.6,377.6l3.3,3.3l-3.3,3.3l-3.3,-3.3zM440.5,378.3l3.3,3.3l-3.3,3.3l-3.3,-3.3zM443.4,379.2l3.3,3.3l-3.3,3.3l-3.3,-3.3zM446.3,380.3l3.3,3.3l-3.3,3.3l-3.3,-3.3zM449.2,381.7l3.3,3.3l-3.3,3.3l-3.3,-3.3zM452.1,383.2l3.3,3.3l-3.3,3.3l-3.3,-3.3zM455,384.6l3.3,3.3l-3.3,3.3l-3.3,-3.3zM457.9,386.2l3.3,3.3l-3.3,3.3l-3.3,-3.3zM460.8,387.7l3.3,3.3l-3.3,3.3l-3.3,-3.3zM463.7,389.1l3.3,3.3l-3.3,3.3l-3.3,-3.3zM466.6,390.4l3.3,3.3l-3.3,3.3l-3.3,-3.3zM469.5,391.5l3.3,3.3l-3.3,3.3l-3.3,-3.3zM472.4,392.6l3.3,3.3l-3.3,3.3l-3.3,-3.3zM475.3,393.6l3.3,3.3l-3.3,3.3l-3.3,-3.3zM478.2,394.6l3.3,3.3l-3.3,3.3l-3.3,-3.3zM481.1,395.6l3.3,3.3l-3.3,3.3l-3.3,-3.3zM484.1,396.5l3.3,3.3l-3.3,3.3l-3.3,-3.3zM487,397.4l3.3,3.3l-3.3,3.3l-3.3,-3.3zM489.9,398.2l3.3,3.3l-3.3,3.3l-3.3,-3.3zM492.8,399l3.3,3.3l-3.3,3.3l-3.3,-3.3zM495.7,399.8l3.3,3.3l-3.3,3.3l-3.3,-3.3zM498.6,400.5l3.3,3.3l-3.3,3.3l-3.3,-3.3zM501.5,401.1l3.3,3.3l-3.3,3.3l-3.3,-3.3zM504.4,401.6l3.3,3.3l-3.3,3.3l-3.3,-3.3zM507.3,402.1l3.3,3.3l-3.3,3.3l-3.3,-3.3zM510.2,402.6l3.3,3.3l-3.3,3.3l-3.3,-3.3zM513.1,403.1l3.3,3.3l-3.3,3.3l-3.3,-3.3zM516,403.4l3.3,3.3l-3.3,3.3l-3.3,-3.3zM518.9,403.7l3.3,3.3l-3.3,3.3l-3.3,-3.3zM521.8,403.9l3.3,3.3l-3.3,3.3l-3.3,-3.3zM524.7,404.2l3.3,3.3l-3.3,3.3l-3.3,-3.3zM527.6,404.4l3.3,3.3l-3.3,3.3l-3.3,-3.3zM530.5,404.6l3.3,3.3l-3.3,3.3l-3.3,-3.3zM533.4,404.8l3.3,3.3l-3.3,3.3l-3.3,-3.3zM536.3,405l3.3,3.3l-3.3,3.3l-3.3,-3.3zM539.2,405.1l3.3,3.3l-3.3,3.3l-3.3,-3.3zM542.2,405.3l3.3,3.3l-3.3,3.3l-3.3,-3.3zM545.1,405.5l3.3,3.3l-3.3,3.3l-3.3,-3.3zM548,405.6l3.3,3.3l-3.3,3.3l-3.3,-3.3zM550.9,405.7l3.3,3.3l-3.3,3.3l-3.3,-3.3zM553.8,405.8l3.3,3.3l-3.3,3.3l-3.3,-3.3zM556.7,405.9l3.3,3.3l-3.3,3.3l-3.3,-3.3zM559.6,406l3.3,3.3l-3.3,3.3l-3.3,-3.3zM562.5,406.1l3.3,3.3l-3.3,3.3l-3.3,-3.3zM565.4,406.1l3.3,3.3l-3.3,3.3l-3.3,-3.3zM568.3,406.2l3.3,3.3l-3.3,3.3l-3.3,-3.3zM571.2,406.2l3.3,3.3l-3.3,3.3l-3.3,-3.3zM574.1,406.3l3.3,3.3l-3.3,3.3l-3.3,-3.3zM577,406.3l3.3,3.3l-3.3,3.3l-3.3,-3.3zM579.9,406.3l3.3,3.3l-3.3,3.3l-3.3,-3.3zM582.8,406.4l3.3,3.3l-3.3,3.3l-3.3,-3.3zM585.7,406.4l3.3,3.3l-3.3,3.3l-3.3,-3.3zM588.6,406.5l3.3,3.3l-3.3,3.3l-3.3,-3.3zM591.5,406.5l3.3,3.3l-3.3,3.3l-3.3,-3.3zM594.4,406.6l3.3,3.3l-3.3,3.3l-3.3,-3.3zM597.4,406.6l3.3,3.3l-3.3,3.3l-3.3,-3.3zM600.3,406.6l3.3,3.3l-3.3,3.3l-3.3,-3.3zM603.2,406.7l3.3,3.3l-3.3,3.3l-3.3,-3.3zM606.1,406.7l3.3,3.3l-3.3,3.3l-3.3,-3.3zM609,406.7l3.3,3.3l-3.3,3.3l-3.3,-3.3zM611.9,406.8l3.3,3.3l-3.3,3.3l-3.3,-3.3zM614.8,406.8l3.3,3.3l-3.3,3.3l-3.3,-3.3zM617.7,406.8l3.3,3.3l-3.3,3.3l-3.3,-3.3zM620.6,406.9l3.3,3.3l-3.3,3.3l-3.3,-3.3zM623.5,406.9l3.3,3.3l-3.3,3.3l-3.3,-3.3zM626.4,406.9l3.3,3.3l-3.3,3.3l-3.3,-3.3zM629.3,407l3.3,3.3l-3.3,3.3l-3.3,-3.3zM632.2,407l3.3,3.3l-3.3,3.3l-3.3,-3.3zM635.1,407l3.3,3.3l-3.3,3.3l-3.3,-3.3zM638,407l3.3,3.3l-3.3,3.3l-3.3,-3.3zM640.9,407l3.3,3.3l-3.3,3.3l-3.3,-3.3zM643.8,407.1l3.3,3.3l-3.3,3.3l-3.3,-3.3zM646.7,407.1l3.3,3.3l-3.3,3.3l-3.3,-3.3zM649.6,407.1l3.3,3.3l-3.3,3.3l-3.3,-3.3zM652.5,407.1l3.3,3.3l-3.3,3.3l-3.3,-3.3zM655.5,407.1l3.3,3.3l-3.3,3.3l-3.3,-3.3zM658.4,407.1l3.3,3.3l-3.3,3.3l-3.3,-3.3zM661.3,407.2l3.3,3.3l-3.3,3.3l-3.3,-3.3zM664.2,407.2l3.3,3.3l-3.3,3.3l-3.3,-3.3zM667.1,407.2l3.3,3.3l-3.3,3.3l-3.3,-3.3zM670,407.2l3.3,3.3l-3.3,3.3l-3.3,-3.3zM672.9,407.2l3.3,3.3l-3.3,3.3l-3.3,-3.3zM675.8,407.2l3.3,3.3l-3.3,3.3l-3.3,-3.3zM678.7,407.2l3.3,3.3l-3.3,3.3l-3.3,-3.3zM681.6,407.2l3.3,3.3l-3.3,3.3l-3.3,-3.3zM684.5,407.2l3.3,3.3l-3.3,3.3l-3.3,-3.3z" fill="none" stroke="#bd7535" stroke-width="1.15"/>
<clipPath id="rb"><rect x="556" y="380" width="140" height="40"/></clipPath>
<g clip-path="url(#rb)"><polyline points="103.5,243 106.4,234.6 109.3,225 112.2,215.6 115.1,206.5 118,198.2 120.9,190.6 123.8,183.4 126.7,176.7 129.6,169.9 132.6,163.4 135.5,158.2 138.4,154.8 141.3,152.1 144.2,149.8 147.1,147.7 150,145.6 152.9,143.3 155.8,141 158.7,138.6 161.6,136.4 164.5,134.1 167.4,131.8 170.3,129.6 173.2,127.4 176.1,125.2 179,123 181.9,120.8 184.8,118.6 187.7,116.1 190.7,113.5 193.6,111.1 196.5,109.1 199.4,107.7 202.3,106.4 205.2,105.4 208.1,104.8 211,104.9 213.9,105.3 216.8,106.1 219.7,106.9 222.6,107.9 225.5,109.4 228.4,111.2 231.3,113.3 234.2,115.6 237.1,118.4 240,121.8 242.9,125.3 245.8,128.8 248.8,132.1 251.7,135.4 254.6,138.7 257.5,142.1 260.4,145.5 263.3,148.9 266.2,152.4 269.1,156.1 272,159.9 274.9,163.8 277.8,168 280.7,172.5 283.6,177.5 286.5,183.3 289.4,189.3 292.3,195.1 295.2,200.5 298.1,205.7 301,210.9 303.9,216 306.9,221.1 309.8,226.2 312.7,231.3 315.6,236.2 318.5,240.9 321.4,245.5 324.3,250 327.2,254.7 330.1,259.7 333,264.9 335.9,270.3 338.8,275.4 341.7,280.2 344.6,284.9 347.5,289.5 350.4,293.7 353.3,297.6 356.2,301.2 359.1,304.6 362,308 364.9,311.3 367.9,314.5 370.8,317.7 373.7,320.8 376.6,323.8 379.5,326.6 382.4,329.4 385.3,332 388.2,334.4 391.1,336.4 394,338.1 396.9,339.8 399.8,341.3 402.7,342.9 405.6,344.5 408.5,346.2 411.4,347.7 414.3,349 417.2,350.1 420.1,351 423.1,351.9 426,352.7 428.9,353.4 431.8,354.1 434.7,354.8 437.6,355.6 440.5,356.5 443.4,357.8 446.3,359.5 449.2,361.3 452.1,363 455,364.8 457.9,366.6 460.8,368.3 463.7,370.1 466.6,372 469.5,373.9 472.4,375.7 475.3,377.3 478.2,378.8 481.1,380.3 484.1,381.7 487,383.1 489.9,384.5 492.8,385.7 495.7,386.9 498.6,388.1 501.5,389.3 504.4,390.6 507.3,391.8 510.2,392.9 513.1,393.9 516,394.6 518.9,395.2 521.8,395.7 524.7,396.2 527.6,396.6 530.5,396.9 533.4,397.2 536.3,397.5 539.2,397.8 542.2,398.1 545.1,398.5 548,399.1 550.9,399.9 553.8,400.8 556.7,401.7 559.6,402.4 562.5,403 565.4,403.5 568.3,404 571.2,404.5 574.1,404.9 577,405.2 579.9,405.5 582.8,405.7 585.7,405.9 588.6,406 591.5,406.2 594.4,406.3 597.4,406.4 600.3,406.5 603.2,406.6 606.1,406.7 609,406.8 611.9,406.8 614.8,406.9 617.7,407 620.6,407.1 623.5,407.1 626.4,407.2 629.3,407.3 632.2,407.3 635.1,407.4 638,407.5 640.9,407.5 643.8,407.6 646.7,407.6 649.6,407.7 652.5,407.7 655.5,407.8 658.4,407.8 661.3,407.9 664.2,407.9 667.1,407.9 670,407.9 672.9,408 675.8,408 678.7,408 681.6,408 684.5,408" fill="none" stroke="#a3302c" stroke-width="2.7" stroke-dasharray="7.6 8.5 18.8 15.4 17.1 16.1 13.5 8.3 12.3 10.3 12.3 10.3 12.3 10.3 12.3 9.8 12.3 9.8 12.3 9.8 12.3 9.8 12.3 9.8 12.3 9.8 12.3 9.8 12.3 9.8 12.3 9.8 12.3 9.8 12.3 9.8 12.3 9.8 12.3 9.8 12.3 9.8 12.3 9.8 12.3 9.8 12.3 9.8 12.3 9.8 12.3 9.8 12.3 9.8 12.3 9.8 12.3 9.8 12.3 9.8 12.3 9.8 12.3 9.8 12.3 9.8 12.3 9.8 12.3 9.8 12.3 9.8 12.3 9.8 12.3 9.8 12.3 9.8 12.3 9.8 12.3 9.8 12.3 9.8 12.3 9.8 12.3 9.8 12.3 9.8 12.3 9.8 12.3 9.8 12.3 9.8 12.3 9.8 12.3 9.8 12.3 9.8 12.3 9.8"/></g>
</g>
<g stroke="#000" stroke-width="1.9" fill="none">
<path d="M103.5,9.4V428.5M99.0,424.0H685.6"/>
<path d="M99.3,424H103.5M99.3,382.6H103.5M99.3,341.3H103.5M99.3,299.9H103.5M99.3,258.6H103.5M99.3,217.2H103.5M99.3,175.9H103.5M99.3,134.6H103.5M99.3,93.2H103.5M99.3,51.9H103.5M99.3,10.5H103.5M103.5,424.0V428.0M248.8,424.0V428.0M394,424.0V428.0M539.2,424.0V428.0M684.5,424.0V428.0" stroke-width="1.5"/>
</g>
<g font-family="'Liberation Serif', 'Times New Roman', serif" font-weight="bold" fill="#111">
<g font-size="14" text-anchor="end">
<text x="91" y="428.7">0</text>
<text x="91" y="387.3">50</text>
<text x="91" y="346">100</text>
<text x="91" y="304.6">150</text>
<text x="91" y="263.3">200</text>
<text x="91" y="221.9">250</text>
<text x="91" y="180.6">300</text>
<text x="91" y="139.2">350</text>
<text x="91" y="97.9">400</text>
<text x="91" y="56.6">450</text>
<text x="91" y="15.2">500</text>
</g>
<g font-size="14" text-anchor="middle">
<text x="103.5" y="445.8">300</text>
<text x="248.8" y="445.8">350</text>
<text x="394" y="445.8">400</text>
<text x="539.2" y="445.8">450</text>
<text x="684.5" y="445.8">500</text>
</g>
<text x="360" y="497.5" font-size="19.5" letter-spacing="0.25" text-anchor="middle">Wavelength (nm)</text>
<text transform="translate(46,226.6) rotate(-90)" font-size="19.5" letter-spacing="0.22" text-anchor="middle">Fluorescence intensity</text>
<text x="382.7" y="78.5" font-size="20.5" text-anchor="middle">a</text>
<text x="382.9" y="255" font-size="20.5" text-anchor="middle">g</text>
</g>
<path d="M380.5,90.5V233.5M375.3,225.5L380.5,233.8L385.7,225.5" fill="none" stroke="#222" stroke-width="1.1"/>
</svg>
</body>
</html>
